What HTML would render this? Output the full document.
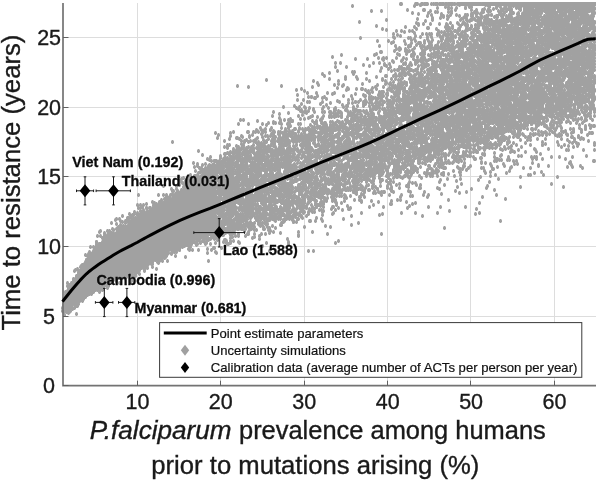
<!DOCTYPE html>
<html lang="en"><head><meta charset="utf-8"><title>Time to resistance vs P.falciparum prevalence</title>
<style>html,body{margin:0;padding:0;background:#fff}svg{display:block}text{font-family:'Liberation Sans', sans-serif}</style></head><body>
<svg width="598" height="481" viewBox="0 0 598 481">
<defs><marker id="d" markerUnits="userSpaceOnUse" markerWidth="6" markerHeight="6" refX="3" refY="3" viewBox="0 0 6 6"><path d="M2.45 1L3.55 1 4.5 2.2 4.5 3.8 3.55 5 2.45 5 1.5 3.8 1.5 2.2z" fill="#a1a1a1"/></marker></defs>
<rect width="598" height="481" fill="#fff"/>
<path d="M137.5,3 V385.7 M220.5,3 V385.7 M304.5,3 V385.7 M387.5,3 V385.7 M470.5,3 V385.7 M554.5,3 V385.7 M63,316.5 H596 M63,246.5 H596 M63,176.5 H596 M63,107.5 H596 M63,37.5 H596" stroke="#dddddd" stroke-width="1" fill="none"/>
<polygon fill="#a1a1a1" points="62,302 64,298.8 66,294.4 68,289.9 70,285.9 72,282.3 74,279.1 76,276 78,273.1 80,270.2 82,267.3 84,264.1 86,260.8 88,257.4 90,254.6 92,252.1 94,249.9 96,247.8 98,245.7 100,243.8 102,241.9 104,240.1 106,238.3 108,236.8 110,235.3 112,234 114,232.7 116,231.3 118,230.1 120,229 122,228 124,227 126,226 128,225 130,223.9 132,222.7 134,221.3 136,220 138,218.7 140,217.3 142,216 144,214.7 146,213.3 148,212.1 150,211 152,209.9 154,208.7 156,207.3 158,206.1 160,205 162,204 164,202.9 166,201.7 168,200.3 170,199.1 172,197.9 174,196.6 176,194.9 178,193 180,191 182,189 184,187.1 186,185.3 188,183.8 190,182.2 192,180.8 194,179.2 196,177.8 198,176.2 200,174.8 202,173.3 204,172.1 206,170.9 208,169.7 210,168.3 212,167.1 214,166.1 216,165.4 216,234.3 214,234.8 212,235.2 210,235.8 208,236.3 206,237 204,237.7 202,238.3 200,239 198,239.7 196,240.2 194,240.8 192,241.3 190,242.1 188,243 186,244 184,245 182,246 180,247 178,247.9 176,248.7 174,249.3 172,250.1 170,251 168,252.1 166,253.3 164,254.7 162,255.9 160,257 158,258 156,259 154,260 152,261 150,262 148,263 146,264 144,265 142,266 140,267 138,268 136,269 134,270 132,271 130,272 128,273 126,274 124,275 122,276 120,276.9 118,277.7 116,278.3 114,279.1 112,280 110,281.1 108,282.3 106,283.7 104,284.9 102,285.9 100,286.7 98,287.3 96,288.1 94,289.1 92,290.3 90,291.8 88,293.3 86,295 84,296.7 82,298.3 80,300.1 78,302 76,303.9 74,305.7 72,307.2 70,308.7 68,309.9 66,311 64,311.9 62,312.6"/>
<polyline transform="translate(0.5,0)" fill="none" stroke="none" marker-start="url(#d)" marker-mid="url(#d)" marker-end="url(#d)" points="293,138 437,176 259,189 218,162 466,40 560,23 489,69 561,4 348,190 458,29 495,129 240,223 247,225 459,70 436,4 523,96 473,34 561,12 146,208 551,37 591,6 521,4 440,114 446,134 355,133 205,237 142,215 300,200 481,127 472,136 340,190 561,23 283,209 510,4 573,45 284,172 563,74 417,62 188,243 574,99 444,228 419,161 457,72 278,139 250,218 593,56 510,15 507,30 297,140 255,205 405,44 263,198 574,49 593,4 490,36 491,52 437,55 483,130 505,4 581,4 116,278 508,139 301,173 446,121 362,142 462,49 426,77 356,128 532,88 289,165 578,43 465,90 293,140 491,47 171,250 242,200 553,74 584,54 497,52 359,111 570,85 564,68 569,4 572,112 537,115 503,52 584,45 474,83 343,148 320,104 505,4 425,121 486,63 223,200 549,82 451,85 509,75 349,140 297,190 530,175 488,35 275,163 539,95 418,97 444,138 256,172 335,124 448,62 78,299 532,26 592,86 481,57 430,146 272,165 374,130 581,4 592,4 587,30 309,185 513,123 479,126 573,4 406,105 475,122 253,145 484,155 428,138 508,88 582,79 513,121 580,29 350,112 381,122 473,157 401,111 318,166 575,37 450,120 417,4 576,4 551,109 436,107 344,172 510,5 538,47 404,163 554,97 559,134 337,179 578,144 450,89 586,4 241,191 425,49 533,66 497,43 409,155 461,100 564,9 501,99 463,43 472,69 408,145 218,234 499,94 546,100 375,136 544,4 386,134 560,82 391,113 327,180 511,81 265,166 369,124 306,188 586,60 176,247 364,139 552,13 235,200 392,88 250,226 307,193 339,146 594,4 498,123 581,4 486,43 308,167 570,72 334,195 547,46 542,71 582,21 577,89 515,94 514,164 418,117 470,83 433,104 525,73 397,109 332,191 326,99 493,99 435,164 537,8 467,126 372,164 297,149 249,230 239,210 591,4 549,134 312,121 523,16 417,72 565,101 542,45 483,56 531,112 96,289 477,83 333,125 514,95 556,38 245,236 527,23 479,122 576,89 351,119 436,53 386,150 482,154 576,4 399,93 411,89 432,112 244,205 552,23 553,26 517,84 555,40 266,171 253,168 246,223 232,209 407,115 594,161 435,74 111,223 312,192 472,78 505,31 275,207 264,143 533,40 548,79 529,4 590,4 592,6 557,5 456,57 558,4 566,99 549,40 294,150 302,183 548,98 510,82 388,113 587,101 593,97 530,4 528,30 378,98 570,129 489,4 250,204 348,209 553,4 306,216 405,114 369,81 471,27 338,192 506,99 500,103 397,200 305,177 338,116 584,11 569,4 295,217 401,157 239,179 523,24 530,109 329,116 487,21 373,147 382,122 373,126 80,300 371,164 589,29 347,148 569,4 265,204 513,79 472,78 551,4 315,187 510,46 191,244 363,179 523,50 501,48 489,117 432,139 530,48 452,97 476,67 283,158 420,119 320,188 243,204 504,62 230,226 528,13 292,131 458,122 260,145 236,164 282,184 374,191 197,176 524,4 464,59 220,189 269,220 547,107 522,81 518,132 304,137 426,124 331,168 509,79 494,65 314,189 358,129 422,118 361,169 381,92 534,100 491,73 467,63 462,156 226,189 594,4 285,143 425,143 564,4 536,106 301,217 528,56 366,172 463,111 568,4 530,7 427,81 360,111 282,199 348,103 235,179 527,80 270,130 481,132 588,89 500,71 527,105 554,4 451,58 250,222 238,225 282,183 529,66 543,175 472,16 529,71 477,77 461,76 546,107 243,221 584,4 540,52 420,188 466,80 294,169 93,251 426,120 558,4 467,71 397,92 578,53 323,138 227,224 175,246 484,154 255,195 423,139 498,128 168,203 367,140 545,4 235,173 65,294 341,115 303,173 420,114 546,112 444,122 261,164 534,111 331,158 570,63 273,192 468,147 592,4 579,51 572,4 532,4 435,87 399,129 450,15 437,112 265,198 447,31 560,18 546,4 532,109 336,164 514,27 193,183 323,203 576,51 530,63 527,86 558,104 546,69 378,167 317,180 228,195 591,95 560,71 574,4 512,70 585,47 580,4 334,193 477,96 253,181 385,125 542,4 230,191 401,100 471,7 229,216 413,169 223,190 465,99 402,155 359,135 408,130 405,101 146,264 66,293 373,133 340,126 511,33 394,51 515,37 408,95 511,71 464,4 139,266 485,54 539,135 567,4 427,129 572,4 532,64 297,95 494,72 577,4 510,71 363,122 550,59 582,4 518,37 574,43 278,139 350,150 391,142 336,175 230,159 420,105 484,75 336,185 337,146 250,150 507,39 544,38 380,119 577,146 469,4 534,82 401,107 470,145 468,66 315,182 453,74 522,24 218,186 542,42 547,4 556,4 549,67 78,272 379,169 519,4 482,4 528,63 231,172 528,23 546,60 352,99 402,168 418,82 563,39 561,64 251,168 321,193 586,52 279,137 536,46 391,159 475,13 297,202 313,174 306,167 560,15 437,111 289,215 583,96 83,265 342,138 240,185 248,87 398,87 392,111 502,59 266,243 217,219 538,72 215,225 587,4 195,181 544,110 229,230 244,231 256,220 341,55 204,239 534,67 467,36 516,80 573,59 301,216 282,152 338,145 440,56 377,189 486,80 574,62 158,263 495,88 533,101 243,215 574,107 243,169 543,20 273,158 407,128 538,11 593,26 407,67 219,199 310,221 411,55 313,164 496,147 375,161 361,202 510,56 245,165 540,85 508,40 312,208 331,179 505,24 579,86 528,23 313,143 401,118 455,58 457,70 526,54 530,168 487,33 514,120 477,114 293,221 518,47 530,42 79,271 513,21 205,168 469,128 569,73 269,202 519,133 591,4 515,4 545,43 436,122 214,188 182,183 548,77 478,62 444,71 582,4 87,295 427,115 415,203 448,87 395,142 548,108 477,124 478,88 471,56 574,4 240,120 466,125 259,161 224,201 220,216 552,77 538,83 397,135 533,67 378,137 579,4 347,167 228,210 426,118 473,79 480,36 559,74 278,210 436,148 553,75 278,153 573,27 440,4 484,136 495,4 457,4 505,79 211,250 446,58 235,202 451,147 445,76 488,84 515,41 422,163 579,70 451,8 559,11 352,135 592,90 239,225 438,133 435,126 546,78 394,137 538,4 548,64 573,22 204,237 468,71 455,100 483,74 430,93 405,51 128,222 435,70 298,132 307,182 424,142 440,58 372,172 461,117 249,152 459,16 511,97 394,163 517,125 263,170 475,4 263,197 570,114 564,99 450,152 484,30 450,145 519,109 292,121 239,210 409,79 546,80 287,158 584,27 465,82 251,211 257,156 339,186 497,100 561,18 314,123 514,110 505,85 360,121 139,268 527,16 556,32 176,197 338,137 398,84 260,183 420,43 276,194 541,49 332,195 419,100 269,233 543,4 480,119 452,115 483,4 385,126 573,20 589,4 427,132 500,125 515,122 511,5 583,4 277,163 573,29 409,65 561,27 285,140 573,71 409,101 329,183 372,122 224,147 310,139 211,169 567,4 435,46 583,98 501,117 587,16 218,185 348,138 348,160 580,106 265,169 443,44 532,104 237,225 570,69 365,139 247,166 442,88 350,143 71,283 158,259 549,17 533,53 525,4 247,211 530,100 454,102 435,12 154,208 443,16 514,35 381,146 468,4 337,167 167,252 508,68 307,165 457,135 581,89 120,225 568,11 111,278 230,218 466,140 449,84 514,4 540,4 238,219 331,160 460,115 323,203 262,155 572,91 563,21 442,78 415,87 455,68 578,15 240,160 447,31 490,25 544,4 547,80 513,6 505,78 288,201 586,4 430,82 134,220 489,59 250,214 172,249 442,126 83,299 503,85 286,173 429,156 490,130 548,149 437,101 580,166 427,103 472,48 412,156 322,212 504,140 445,60 433,125 406,104 584,4 566,108 227,178 356,138 466,151 256,198 570,98 429,47 584,4 323,168 369,155 544,72 459,114 507,30 413,151 353,158 375,87 271,209 574,109 498,26 537,41 507,113 456,8 584,14 228,196 386,126 367,125 539,107 561,65 220,181 526,13 218,232 473,149 253,141 330,145 233,227 564,4 537,65 549,103 178,195 450,137 217,210 578,107 587,89 252,165 453,41 451,145 457,106 544,24 367,136 389,129 429,123 532,75 586,32 584,4 504,147 338,133 586,64 521,46 567,4 516,48 322,128 459,48 564,23 576,74 415,129 301,203 454,143 504,121 484,67 499,57 339,171 538,17 453,105 321,149 300,179 381,68 579,4 308,111 235,209 278,134 459,120 519,4 306,147 449,120 470,72 409,147 216,187 105,237 488,104 438,88 194,167 590,74 588,62 337,166 560,4 393,113 541,4 527,16 492,23 453,103 509,15 509,31 366,125 502,134 517,4 526,5 577,39 284,181 452,142 459,108 591,25 565,75 561,4 249,161 252,174 424,72 412,149 90,290 346,106 439,104 589,77 386,94 479,112 263,165 451,120 439,97 403,70 508,53 384,109 511,88 226,191 333,125 295,191 582,44 263,200 336,169 519,110 406,98 534,87 594,45 468,50 299,205 451,143 280,197 488,55 276,195 569,46 459,119 354,170 413,78 427,39 570,73 513,4 548,4 281,163 467,106 480,103 336,171 434,100 64,309 345,120 495,28 225,162 324,190 319,127 303,197 498,109 558,4 524,6 429,43 113,234 536,66 220,234 349,188 443,126 490,99 564,4 343,219 530,109 361,181 523,22 503,25 221,190 475,109 492,59 583,4 499,32 511,111 400,124 239,139 578,55 178,192 514,81 563,74 504,132 241,202 337,129 487,76 239,208 366,143 233,156 404,113 451,91 428,126 504,13 566,19 236,157 353,125 561,122 237,174 430,93 517,110 315,132 513,99 434,48 199,168 235,171 426,121 539,79 249,206 484,60 230,188 422,134 594,4 308,141 396,135 560,45 392,142 390,147 354,184 558,82 557,72 441,154 445,118 392,161 571,43 578,4 307,102 560,66 224,190 505,6 429,145 363,122 562,84 291,184 545,139 592,14 545,36 478,23 558,4 518,79 453,37 461,85 340,139 396,135 251,170 577,103 452,163 524,106 322,166 237,178 593,49 446,119 569,78 362,143 563,86 525,39 524,86 554,13 406,99 219,182 96,247 445,147 492,51 463,122 573,95 459,55 431,148 413,71 171,189 510,52 543,4 576,4 383,155 573,36 431,4 502,91 466,123 503,27 428,78 132,276 556,4 500,12 577,65 293,172 159,261 285,207 577,54 140,264 128,220 315,169 540,6 528,67 428,148 218,204 568,49 461,140 417,131 478,81 568,4 585,126 322,174 539,123 432,86 531,9 442,150 439,98 324,199 583,42 516,71 541,4 466,137 332,191 518,15 415,119 289,214 522,97 409,99 529,4 341,155 444,61 284,204 363,65 315,177 407,171 536,67 559,4 504,121 256,179 406,92 298,232 207,237 569,73 426,109 586,4 324,189 501,79 562,21 230,164 243,152 546,86 467,26 454,121 567,140 310,198 244,211 569,85 217,188 407,165 409,103 321,201 549,29 519,126 400,36 242,199 440,110 290,197 332,131 588,99 322,162 393,111 223,210 534,24 243,147 532,43 217,162 518,61 513,116 120,276 125,227 308,214 476,130 248,216 431,158 509,8 363,164 569,16 459,135 348,161 465,90 590,118 458,64 583,102 468,66 455,143 369,118 448,144 389,154 335,186 533,103 564,58 223,180 442,37 478,4 551,4 501,4 355,116 417,113 522,89 263,190 253,183 230,213 560,22 407,208 335,201 435,135 278,190 273,132 533,66 526,20 513,76 304,136 515,50 531,94 498,116 555,16 568,109 456,55 561,100 574,50 230,169 515,48 527,47 221,169 513,4 382,151 512,4 520,92 325,169 560,4 444,80 487,34 206,172 257,182 586,57 257,121 257,182 338,189 481,42 282,138 237,149 126,228 345,124 482,4 387,143 416,147 543,99 232,214 487,52 484,78 441,139 483,28 460,116 380,171 484,17 476,88 398,119 460,138 552,4 519,73 462,98 508,139 288,134 453,75 485,97 568,4 309,209 458,4 575,4 324,170 527,96 266,201 560,86 577,4 236,217 462,51 259,213 524,64 365,119 568,33 488,30 518,33 476,102 345,166 106,286 555,21 240,194 338,177 446,103 481,162 266,161 588,61 535,29 491,24 473,134 550,130 371,172 304,133 547,18 451,47 393,163 400,80 576,97 376,99 201,237 573,8 386,145 591,17 476,152 471,81 441,108 516,78 551,105 397,170 361,150 541,116 561,20 538,61 397,174 488,9 222,206 346,135 533,79 563,14 242,185 518,101 263,168 564,78 302,143 500,56 462,57 227,203 484,111 514,4 243,175 66,310 97,236 456,83 458,71 225,171 416,23 485,128 430,129 582,36 591,97 166,254 533,62 217,227 540,16 546,135 475,90 506,4 457,128 524,11 575,66 538,60 533,49 552,54 260,145 538,24 224,177 388,139 371,134 553,83 433,147 310,168 584,85 455,90 508,148 583,4 254,214 563,41 511,40 210,234 591,25 447,123 376,126 492,134 394,94 190,175 342,105 109,235 459,90 188,243 578,58 541,77 413,114 144,264 300,177 434,93 404,126 264,209 510,8 296,145 591,36 328,170 254,227 476,122 542,123 433,70 552,57 249,137 249,151 268,230 414,158 541,97 255,171 373,205 414,154 471,45 246,140 511,30 585,5 530,61 271,191 308,212 419,133 573,4 341,193 494,93 530,4 269,166 562,97 276,158 235,229 578,22 296,173 415,154 251,195 380,148 241,176 476,80 522,88 381,96 151,264 544,4 426,64 323,144 440,48 535,75 579,4 246,179 508,4 215,221 559,4 537,28 345,190 164,203 581,4 80,300 205,235 529,16 561,81 369,140 267,180 515,112 463,4 592,68 570,90 461,73 361,89 239,203 440,62 431,83 292,168 536,4 137,268 415,95 554,74 421,117 242,226 457,100 107,288 465,106 406,119 257,138 591,92 481,35 369,66 400,146 330,227 332,200 247,193 532,4 551,12 115,277 551,34 484,132 591,4 353,136 251,163 579,99 509,17 252,159 540,112 454,151 412,121 406,69 461,42 581,40 584,7 274,177 371,111 593,4 347,106 563,47 415,70 522,36 582,123 536,40 553,80 449,77 418,123 239,160 396,120 419,109 238,229 565,95 505,88 435,143 207,159 566,4 564,20 347,176 511,12 457,55 498,72 447,43 562,30 562,20 413,116 593,4 345,179 550,15 98,286 415,183 554,47 386,83 479,132 281,163 443,84 398,172 376,100 564,5 498,58 442,123 542,108 471,10 223,191 482,4 316,169 438,76 300,175 503,30 475,80 424,106 538,44 577,111 342,147 479,64 536,87 360,178 570,99 287,216 450,137 517,80 355,172 551,59 368,174 549,45 576,4 290,165 587,45 135,267 574,55 413,160 221,211 320,135 563,106 561,12 219,224 576,4 538,61 482,74 275,200 270,175 531,103 410,161 509,102 568,4 478,180 585,35 459,172 378,202 360,154 486,126 490,89 527,54 571,50 418,140 558,40 571,117 528,43 568,53 204,239 409,151 571,87 572,48 560,43 366,154 493,95 300,151 403,113 137,270 452,117 549,40 77,302 537,101 547,30 477,52 511,92 236,208 562,114 561,54 428,124 398,111 566,85 531,157 594,116 575,4 594,143 423,100 322,161 243,152 558,4 492,59 591,61 475,126 512,84 530,145 558,59 534,157 331,138 565,4 562,25 582,4 405,119 488,133 308,188 542,92 442,73 341,169 563,187 316,207 250,166 524,11 436,29 403,107 416,29 594,23 482,46 84,297 387,128 250,225 535,112 516,103 589,86 515,69 445,73 238,216 448,65 310,168 349,123 593,63 438,125 229,206 440,107 255,201 373,187 583,15 518,19 435,73 545,55 362,121 564,4 483,46 437,154 436,100 560,14 545,36 541,71 387,142 500,24 526,89 572,4 337,148 289,141 301,211 482,12 212,237 120,276 454,109 593,86 330,126 336,165 238,159 498,4 330,166 83,267 214,204 587,116 528,84 594,29 439,167 518,44 573,85 405,75 375,141 216,161 234,180 497,30 461,33 587,86 523,4 582,66 302,165 456,79 158,260 78,302 511,74 309,135 108,238 498,134 473,85 283,191 485,90 479,106 488,92 425,114 580,48 444,115 590,79 553,4 248,132 588,53 292,140 372,146 390,141 524,4 285,191 258,224 420,99 445,60 579,32 183,187 412,147 451,78 437,61 241,227 217,163 594,112 408,177 575,47 568,4 445,55 594,77 583,35 189,250 353,180 388,154 426,173 499,85 591,64 536,125 529,137 434,120 501,9 435,86 559,4 564,95 431,93 423,108 437,45 554,60 526,37 502,42 583,27 305,181 560,97 555,14 517,164 584,121 81,266 438,155 405,108 551,4 300,136 408,191 548,80 171,253 361,163 351,172 594,9 198,179 555,21 382,154 584,4 520,17 588,9 525,113 587,30 541,53 423,68 566,61 259,158 562,4 296,179 464,104 551,126 287,156 534,14 527,57 566,30 397,167 525,4 269,220 103,240 282,180 246,209 165,256 229,182 160,260 504,103 354,115 579,93 580,15 478,51 385,146 330,193 486,24 160,206 464,142 491,94 569,101 390,144 437,109 232,164 534,35 557,81 344,142 335,67 463,23 357,125 342,168 271,207 514,95 498,126 569,11 286,203 583,4 226,241 485,173 215,161 512,117 496,103 434,82 368,157 565,14 561,30 262,190 387,115 555,84 559,71 421,100 351,115 381,122 355,177 506,86 591,20 480,88 244,204 237,162 131,273 279,147 283,220 402,88 566,111 360,197 555,8 357,163 480,38 364,169 546,4 474,137 526,55 551,113 547,13 511,51 395,116 242,154 263,157 541,11 419,150 545,93 269,163 564,101 393,171 470,38 517,27 274,170 443,97 436,105 448,139 428,60 576,24 395,119 566,83 537,4 498,22 510,34 165,257 228,193 140,211 399,141 477,142 376,120 257,215 409,178 485,4 324,152 557,60 258,164 557,4 440,116 446,103 480,94 523,21 516,83 315,184 497,137 586,96 465,87 429,69 348,181 260,156 440,92 209,234 555,4 530,67 169,200 249,179 310,180 471,54 479,203 322,153 459,68 278,177 531,31 67,283 324,123 520,140 469,64 522,113 410,87 567,57 451,109 287,175 588,94 254,223 551,38 188,245 425,142 492,60 337,137 462,24 277,170 245,179 143,216 555,45 365,188 326,191 482,96 435,100 510,94 432,18 513,20 202,165 237,221 382,168 382,134 535,108 379,111 329,166 519,5 491,107 504,111 396,156 429,93 381,234 262,185 522,51 288,168 271,188 430,72 518,43 209,171 588,4 150,213 263,152 457,141 485,115 513,31 489,93 386,159 579,4 307,175 510,10 394,126 206,171 259,189 591,4 492,101 515,86 407,92 503,64 398,163 509,37 386,30 553,43 474,110 268,194 348,100 278,155 530,137 486,118 267,189 364,174 540,154 554,77 365,135 518,127 465,83 290,217 586,79 396,140 217,223 503,76 523,4 242,219 574,46 322,221 480,100 580,84 504,123 180,193 279,174 515,52 183,246 495,115 381,157 577,51 521,73 474,129 585,5 112,281 444,110 403,137 536,102 404,106 594,29 116,229 357,168 560,24 560,87 504,41 535,150 513,76 399,169 559,4 105,238 570,4 571,25 511,84 498,97 269,219 441,125 311,197 216,169 538,93 522,19 429,73 316,164 353,151 529,19 519,4 473,37 320,206 305,141 442,99 381,154 400,4 512,43 594,70 279,165 79,300 594,4 370,160 517,7 534,72 411,144 115,234 244,174 368,145 522,113 266,218 570,93 461,184 495,101 241,183 258,142 346,90 287,184 452,26 303,144 492,113 117,228 515,80 241,208 335,182 79,274 579,96 553,12 176,194 548,109 295,170 267,147 260,181 337,167 584,4 448,94 592,4 372,159 250,196 226,176 541,107 547,67 574,141 529,4 451,53 522,29 207,239 280,138 319,184 484,59 534,57 499,122 431,112 517,82 220,215 483,64 234,192 568,150 420,61 511,150 332,214 455,36 360,145 345,154 284,167 492,88 272,160 349,167 498,42 271,156 551,4 581,104 272,155 586,84 455,131 582,38 253,175 283,179 247,160 509,142 521,33 582,66 581,68 567,23 577,23 292,177 260,152 272,143 495,26 385,76 525,86 402,143 186,188 564,66 249,183 466,28 537,72 279,175 486,44 380,149 501,133 465,75 338,111 460,107 522,4 239,223 521,4 570,4 219,215 546,121 474,42 241,148 365,103 497,16 496,72 125,277 247,194 459,141 505,199 231,194 497,116 486,92 495,61 388,69 230,227 526,66 594,110 567,69 527,58 301,169 581,31 486,62 521,4 510,48 523,38 227,231 557,37 471,110 473,92 433,150 574,13 255,194 493,169 426,113 326,165 241,136 540,34 117,276 565,4 577,14 259,148 248,184 374,153 461,120 210,234 232,177 480,70 180,245 343,150 266,191 320,129 497,21 560,93 179,181 85,293 526,56 535,82 309,158 445,162 504,4 398,152 593,64 384,167 584,113 432,40 415,121 565,20 548,4 572,35 473,85 436,106 434,62 442,60 481,16 531,23 272,155 569,9 433,66 451,120 454,176 339,134 468,110 564,145 484,39 417,105 233,229 461,89 519,126 242,188 118,275 294,129 482,58 563,75 555,4 433,49 259,162 479,75 434,97 498,75 231,224 331,173 283,136 384,127 552,126 571,110 528,81 346,128 242,229 565,17 547,66 487,41 424,136 298,160 307,181 498,53 419,149 254,200 247,191 525,80 250,151 378,137 582,78 450,132 249,213 128,271 534,4 468,4 559,136 493,94 311,97 494,4 508,33 415,41 292,189 422,58 570,99 459,28 314,143 531,129 493,103 518,4 453,128 214,165 299,172 567,94 409,153 233,221 534,51 333,164 555,97 195,177 307,204 374,178 267,214 586,83 372,150 445,159 456,98 248,224 445,135 428,156 499,128 245,166 135,222 573,50 374,142 326,163 298,131 497,70 327,158 271,175 78,276 332,137 591,97 438,47 287,166 515,101 491,57 450,83 561,4 444,88 477,129 487,4 309,146 562,40 542,64 568,62 550,108 413,166 243,173 519,33 594,90 275,210 376,153 500,131 586,9 534,115 421,92 511,57 463,131 436,150 487,11 526,56 585,4 524,30 100,236 269,150 479,97 251,194 499,47 307,159 538,4 414,147 474,119 217,207 519,4 247,200 447,16 527,28 527,19 584,100 526,88 337,183 385,150 402,129 95,286 480,126 284,180 513,69 397,70 220,164 510,40 275,228 541,172 290,186 533,4 508,32 274,213 212,165 488,46 503,102 243,164 586,51 457,94 131,280 500,4 582,89 265,197 288,207 549,4 587,8 292,200 236,155 224,185 525,4 564,4 346,169 330,161 426,128 327,169 493,38 466,133 354,117 436,129 96,244 163,203 371,123 492,82 583,4 412,134 384,64 578,105 250,177 118,233 582,8 539,4 482,41 265,160 478,88 549,106 282,167 546,133 494,84 216,253 576,26 428,120 487,56 302,183 340,143 579,91 349,148 540,4 526,19 547,106 490,119 346,135 361,129 584,101 533,122 500,83 229,209 326,141 295,134 471,128 280,193 590,54 223,163 456,104 230,199 550,22 79,274 574,75 417,136 407,123 571,97 488,94 388,131 247,168 423,51 298,202 274,154 556,91 545,11 513,124 492,89 276,210 394,97 483,88 569,142 509,109 540,94 270,146 433,142 344,158 520,110 575,4 490,135 493,89 547,52 382,151 490,42 417,85 466,148 272,150 589,4 560,72 239,175 157,259 249,223 572,37 363,163 310,178 549,99 546,46 265,149 223,159 299,187 550,90 449,63 545,93 215,252 559,77 284,172 562,50 177,195 297,219 227,186 291,190 419,90 522,29 303,198 427,158 424,192 496,22 561,85 357,125 564,106 586,4 289,159 587,4 434,68 442,140 217,201 286,203 567,4 580,61 123,229 483,56 516,87 438,159 271,144 229,233 462,65 545,66 509,19 579,4 392,174 299,194 558,4 587,16 244,142 333,116 559,33 93,247 430,97 301,110 221,209 545,51 431,143 328,180 452,123 517,4 556,61 433,173 210,157 496,84 263,147 448,28 561,100 512,19 587,90 544,60 87,292 541,11 444,63 585,98 527,25 357,162 383,58 547,65 438,56 529,43 570,13 515,44 218,172 446,109 564,4 240,221 397,160 430,152 571,4 275,196 410,111 490,48 478,49 241,229 553,95 346,144 422,119 399,50 552,4 439,144 505,20 351,116 152,210 406,54 584,66 593,60 589,50 486,98 308,135 588,66 290,179 467,56 324,143 458,113 564,93 370,111 397,54 552,8 582,34 582,83 383,92 244,225 532,4 504,62 539,64 439,101 478,147 114,278 487,38 590,72 241,178 520,4 185,187 363,144 446,144 287,210 141,265 303,162 317,188 219,198 575,98 463,124 400,105 561,4 334,165 500,70 200,238 541,112 520,92 287,205 279,151 547,4 209,239 437,75 469,129 360,150 421,139 224,195 535,95 309,167 403,99 578,137 572,33 569,27 555,107 217,213 383,124 299,152 512,42 445,141 578,4 578,84 419,133 509,46 393,34 506,117 546,113 167,253 579,49 448,103 520,35 90,254 300,208 265,187 465,46 371,123 580,102 575,55 350,123 477,39 433,4 448,96 522,16 505,118 562,42 537,4 347,206 455,10 345,184 167,261 501,68 461,49 589,4 494,112 552,4 536,46 552,102 358,162 426,159 539,107 282,140 219,165 434,139 572,137 399,113 305,145 535,4 451,101 476,100 532,51 354,200 275,152 569,4 489,6 354,144 463,143 469,48 374,153 260,220 393,113 350,128 408,38 85,295 440,207 357,123 360,114 223,171 508,82 104,235 258,173 246,164 329,145 523,102 356,89 591,45 457,127 348,143 584,31 245,209 146,216 507,93 227,158 556,110 457,63 531,4 464,126 471,100 565,12 445,148 441,77 569,106 546,61 406,202 588,83 536,114 511,92 550,4 258,164 526,89 420,96 550,84 484,4 501,53 493,129 232,186 108,286 232,159 423,142 417,121 544,92 326,128 562,110 237,224 449,131 424,119 568,47 316,159 431,74 579,100 496,16 526,116 316,196 582,4 541,104 369,124 526,4 461,115 577,26 577,4 554,94 541,20 522,105 282,145 423,159 532,33 138,208 441,84 385,137 432,126 179,250 349,166 350,176 480,94 513,100 573,4 387,134 587,37 368,169 554,94 445,139 118,227 574,4 393,92 525,105 551,110 222,215 132,271 552,112 264,143 589,35 581,82 288,143 263,179 519,66 420,74 396,122 445,143 349,124 273,178 518,130 224,205 525,81 494,28 500,100 575,4 416,124 407,108 479,32 513,67 516,52 336,195 309,140 218,237 543,60 331,197 474,31 479,91 490,53 427,47 127,218 545,4 510,131 230,212 396,152 577,45 475,28 112,281 448,98 541,124 516,51 564,105 260,210 490,50 594,4 496,113 112,236 360,142 272,195 555,101 365,135 471,50 539,4 475,35 594,22 259,167 286,192 594,79 262,145 488,118 530,4 392,144 381,192 138,221 544,58 221,214 557,19 581,63 293,222 412,85 574,78 82,297 284,220 228,173 431,97 288,113 270,167 329,79 293,165 381,168 526,72 338,122 493,26 355,102 544,99 585,106 493,22 442,52 550,67 531,4 593,35 576,4 425,129 171,200 278,172 226,164 542,8 555,4 381,170 443,108 474,74 395,175 445,116 455,78 389,121 542,34 583,4 455,132 544,4 292,219 481,57 384,123 540,111 476,42 470,117 318,144 85,255 223,199 305,158 439,118 436,173 463,82 551,36 276,149 259,164 118,276 425,161 335,123 504,4 433,116 421,71 230,227 349,209 422,139 500,46 519,49 442,69 336,203 576,114 589,71 274,176 563,9 524,31 409,147 441,79 222,174 366,164 561,24 522,111 517,60 578,4 485,44 589,79 582,107 563,21 507,83 460,85 467,40 258,183 590,4 503,113 574,63 399,76 448,75 494,190 301,134 272,176 515,115 79,273 424,93 399,176 293,212 512,133 391,103 416,102 376,89 427,103 474,122 495,90 516,4 473,41 551,74 249,182 467,4 471,106 516,76 550,23 358,168 551,65 577,67 493,39 494,94 527,90 516,4 506,73 521,86 504,70 444,156 533,109 491,24 532,62 336,186 227,179 483,80 514,102 492,129 240,195 573,32 254,234 526,26 420,129 461,42 125,273 556,128 403,146 244,159 523,70 504,57 550,40 272,139 513,4 560,4 570,72 472,139 339,167 490,41 471,78 345,149 526,97 456,117 510,78 237,157 217,179 137,215 511,146 511,115 560,99 553,4 463,153 593,94 521,111 407,134 484,44 522,37 288,152 472,83 325,192 543,4 593,50 582,76 528,25 365,143 270,171 288,216 241,229 236,150 239,243 579,90 555,22 313,135 542,42 362,162 452,139 422,67 522,117 493,35 565,4 554,43 511,107 252,224 581,138 363,133 501,79 470,82 297,172 544,59 268,148 339,140 547,111 448,12 478,4 300,166 240,190 377,41 369,98 455,37 582,20 569,4 309,144 133,219 495,120 581,4 243,149 453,99 237,214 387,95 593,4 553,4 352,6 518,47 455,121 583,50 576,4 389,101 466,18 559,22 278,194 487,109 446,143 482,85 547,61 593,93 555,101 512,24 320,120 396,161 503,118 242,192 497,82 540,4 418,152 67,291 110,282 561,135 545,22 558,4 470,148 464,126 235,218 519,113 522,87 575,4 494,122 521,118 401,4 558,56 238,188 138,219 400,200 325,134 391,149 281,181 224,217 94,251 558,4 270,212 363,111 407,73 554,4 216,235 482,76 497,123 488,43 490,69 487,63 407,170 295,134 523,79 190,185 284,157 564,14 537,92 252,198 483,130 303,207 501,33 507,18 497,48 288,171 586,4 335,153 516,145 272,151 332,176 584,4 511,128 405,127 400,119 458,142 571,4 486,29 417,143 506,97 331,157 576,4 590,109 290,160 534,149 575,47 592,72 285,164 468,112 437,153 526,50 450,98 539,98 385,118 583,81 460,35 244,190 502,4 454,111 576,4 320,198 206,239 205,244 501,110 435,104 94,287 380,101 592,26 415,82 458,79 358,149 529,56 451,36 266,200 506,4 168,198 225,203 269,179 322,185 491,78 353,140 393,139 588,4 328,174 441,174 492,52 494,22 327,93 488,122 394,100 452,46 205,237 496,59 320,176 581,30 267,165 233,185 238,200 519,4 495,57 407,109 534,33 432,109 589,96 576,4 331,183 286,151 541,55 354,176 265,163 452,114 332,131 558,106 264,223 234,185 307,162 483,114 557,4 415,113 445,157 376,26 378,58 261,194 580,4 403,94 318,184 307,173 583,4 251,229 436,142 459,117 493,62 519,101 300,212 580,73 544,62 501,44 335,210 581,43 347,117 502,99 585,7 441,116 296,142 477,79 433,142 189,245 103,285 410,82 572,54 534,18 475,4 558,116 311,193 220,158 586,13 497,167 215,191 146,208 572,17 502,129 589,65 272,191 436,88 438,163 286,171 410,128 466,53 458,51 556,123 583,14 230,199 458,100 569,4 511,88 509,4 540,9 530,4 454,75 457,167 470,84 573,105 539,4 132,223 454,118 568,53 434,107 552,102 409,71 528,82 484,41 307,144 227,186 589,89 278,178 265,142 128,222 509,129 574,69 281,208 453,142 365,154 583,50 505,89 590,128 557,136 339,150 442,105 449,163 485,49 219,163 575,89 471,26 406,132 571,91 241,160 218,233 578,112 509,45 444,144 263,209 344,187 592,89 445,66 457,71 455,60 578,97 481,158 256,159 447,112 410,101 225,217 510,77 565,32 263,140 511,22 407,159 474,44 326,200 350,208 486,57 250,174 76,278 535,61 568,4 509,30 500,90 528,59 415,4 529,36 502,80 535,6 495,32 330,103 503,140 494,93 122,273 465,126 247,132 568,89 247,153 77,277 479,4 497,104 520,43 300,209 587,65 545,4 541,94 500,99 575,77 411,132 310,131 118,275 540,85 325,143 522,107 556,18 269,215 281,164 255,132 224,220 459,4 403,140 100,288 486,68 384,165 313,81 387,121 507,121 470,122 581,23 362,157 477,88 403,96 469,131 588,37 287,186 558,21 300,124 539,110 243,203 423,85 423,53 549,84 407,103 389,148 531,102 406,127 494,98 540,91 477,102 251,213 594,35 401,106 519,8 488,35 489,102 290,203 397,146 472,61 275,147 536,4 222,226 519,105 426,61 198,238 552,9 448,35 590,38 567,4 468,87 575,57 188,186 589,24 305,145 514,65 475,128 490,4 579,106 304,201 486,137 310,176 223,182 441,121 221,248 467,60 466,74 554,4 551,100 431,15 279,199 347,122 489,116 439,65 534,107 337,147 562,94 576,4 544,4 392,145 549,103 484,65 360,100 581,4 431,47 465,82 511,72 583,78 339,148 314,200 528,29 446,146 323,152 565,38 405,63 369,121 289,206 511,9 410,79 258,171 528,11 568,93 582,18 373,135 282,139 553,4 534,34 476,62 466,61 371,161 497,145 511,13 549,61 261,234 378,150 517,117 237,228 447,92 297,100 260,196 510,4 164,202 130,223 396,144 441,131 343,167 470,51 295,140 280,207 273,201 440,65 556,27 488,119 421,147 228,164 515,104 522,4 146,204 488,136 280,188 557,61 216,209 211,238 538,96 398,101 580,4 365,131 91,290 166,197 363,195 580,24 231,233 581,97 585,7 578,4 567,83 149,208 422,125 387,173 220,192 395,74 467,100 274,191 388,116 352,127 265,202 458,132 332,139 423,79 403,101 229,161 580,91 540,95 280,183 559,11 576,6 503,99 555,4 246,221 286,172 338,139 244,201 356,180 521,125 424,89 542,98 411,92 506,107 502,32 416,45 485,127 504,33 461,19 418,132 82,267 372,173 141,212 523,94 424,151 475,111 384,65 269,251 428,148 472,74 569,4 227,174 502,76 354,149 404,41 249,188 452,57 404,32 550,115 392,120 458,145 225,187 486,118 217,186 434,135 235,186 563,4 468,126 525,122 483,97 416,99 281,159 531,13 568,12 577,103 507,98 142,218 423,10 580,82 257,193 384,116 417,154 525,152 528,4 559,63 321,210 548,9 573,4 136,272 357,171 529,99 92,288 517,98 327,234 575,47 506,71 423,121 70,287 445,27 337,172 525,23 267,156 457,55 590,60 153,207 422,131 142,216 272,196 448,4 308,144 221,234 590,47 581,64 563,66 384,151 231,208 453,116 566,43 526,18 227,207 246,172 273,187 432,170 402,109 439,106 324,132 553,83 417,85 381,96 420,150 490,111 274,220 460,113 269,199 469,101 375,121 569,4 521,4 553,56 435,98 224,198 187,180 574,4 367,148 586,81 325,160 333,145 540,100 369,163 451,136 565,4 252,183 363,152 473,135 500,76 390,189 414,84 333,160 555,63 324,188 552,99 546,29 276,202 474,80 434,117 266,194 381,122 390,174 187,243 308,177 230,202 555,100 441,15 520,52 535,74 421,48 351,158 461,49 184,245 331,166 541,100 438,171 366,181 491,114 352,114 460,130 66,312 472,70 445,146 407,175 469,54 288,156 513,120 329,191 498,35 302,196 419,96 332,94 100,244 405,112 204,242 544,28 429,174 462,110 589,88 480,61 389,118 571,4 480,62 504,97 226,218 346,140 570,44 258,164 218,188 560,107 344,143 73,279 485,33 453,43 353,120 407,120 459,89 449,130 502,42 500,102 506,131 355,156 513,78 305,167 472,122 266,141 533,98 436,4 456,80 338,128 539,29 203,171 560,18 229,175 439,182 444,124 444,125 484,9 316,170 455,118 230,175 351,148 567,61 581,4 362,169 511,38 514,121 102,238 413,85 510,4 308,202 578,24 568,100 281,142 97,287 517,137 579,104 510,16 455,100 429,103 556,4 589,4 538,84 555,81 274,193 520,130 530,4 586,106 454,94 469,139 556,4 570,162 67,295 485,99 512,77 504,139 469,122 408,107 365,176 231,225 424,52 584,50 413,152 526,77 463,40 506,117 571,4 332,189 590,37 225,188 91,293 456,68 292,138 506,128 544,4 435,69 477,88 563,59 510,112 501,123 372,105 547,109 500,4 453,88 567,88 277,155 418,132 404,95 447,74 575,20 590,111 244,217 287,205 557,36 466,20 529,43 145,263 574,48 458,24 511,167 546,80 515,4 500,4 229,153 484,94 444,139 474,106 214,178 588,100 226,181 240,150 438,135 552,104 93,292 361,194 462,83 435,113 452,4 526,10 250,182 428,127 550,88 533,46 440,96 264,130 571,15 379,215 408,102 353,162 397,130 573,129 548,102 237,184 449,147 588,76 521,65 447,67 376,130 579,57 589,57 550,58 469,74 236,182 545,52 486,93 483,77 403,97 175,256 478,111 442,48 571,86 478,132 505,21 295,160 408,46 534,4 594,36 507,26 566,5 581,4 594,4 399,161 407,137 515,30 579,87 584,4 439,92 492,4 567,4 222,210 436,74 403,64 461,124 574,85 587,54 559,101 294,106 388,123 563,54 388,176 416,111 427,81 425,49 514,124 361,213 586,4 333,185 479,86 96,288 300,187 566,4 520,10 346,170 565,62 542,92 174,252 537,52 568,24 74,282 235,152 564,4 251,206 399,161 539,48 436,96 475,28 438,149 491,104 545,4 315,179 343,159 568,35 561,26 215,166 572,34 263,176 515,82 423,156 451,13 552,90 214,248 461,42 134,274 380,181 581,18 533,93 355,94 515,62 234,158 567,4 433,65 572,68 388,141 275,203 297,172 561,95 318,192 343,178 216,226 265,152 210,166 577,4 299,199 437,12 584,53 576,37 573,92 412,81 230,198 115,279 531,55 562,87 250,214 590,105 407,140 505,4 526,34 320,170 297,141 527,110 540,40 407,51 147,262 474,123 156,206 493,36 457,125 282,184 463,79 232,205 555,45 339,193 440,82 91,294 268,156 150,208 450,143 573,112 390,83 556,4 333,157 382,214 517,127 389,137 172,195 247,205 422,75 576,4 68,289 464,42 438,51 591,126 298,189 86,261 477,76 517,68 505,111 238,242 229,181 244,180 477,82 556,26 487,147 544,68 426,66 358,102 458,44 517,81 567,4 540,57 542,98 391,105 550,60 484,115 454,56 80,271 562,95 554,43 284,208 495,4 477,145 462,83 445,90 548,4 207,168 298,116 523,168 592,4 298,201 486,71 496,54 532,130 273,218 327,148 523,35 586,28 552,112 574,66 556,64 252,215 551,22 230,193 418,99 534,114 377,99 509,17 579,4 323,165 514,33 334,115 225,171 405,114 415,170 223,218 521,156 294,147 359,148 308,199 446,119 366,156 533,37 553,28 279,160 254,158 296,197 554,87 426,134 440,68 533,40 534,57 295,181 149,261 537,4 271,161 437,116 239,201 571,69 253,205 468,52 322,128 452,139 590,4 523,119 462,120 482,123 299,129 493,115 484,20 543,80 240,224 510,27 576,70 572,143 396,105 468,115 575,36 424,147 311,184 521,23 399,48 330,130 388,157 351,114 586,73 503,104 568,4 404,132 311,180 403,127 479,149 558,27 87,294 559,114 225,220 483,78 554,89 399,99 323,163 302,176 494,121 530,4 384,158 577,4 506,87 256,197 514,37 533,90 538,125 562,76 477,32 395,131 277,158 500,43 576,100 459,106 432,123 515,43 527,4 585,4 273,160 234,187 561,30 505,91 370,168 507,104 469,91 362,143 500,4 314,182 301,178 275,215 530,42 485,91 500,221 554,54 460,157 545,37 382,118 247,197 442,111 528,4 367,164 296,190 508,66 122,228 537,44 226,199 552,8 250,174 452,135 497,62 369,150 447,134 299,200 526,11 569,77 117,231 239,198 88,257 471,117 544,88 492,123 263,166 131,216 593,4 502,74 285,166 442,117 531,80 363,104 465,98 377,125 440,108 339,181 466,120 441,151 514,56 391,133 417,142 156,258 483,88 322,102 589,133 283,210 298,190 327,168 252,159 374,140 378,134 578,77 442,131 464,4 327,198 479,50 570,4 463,65 453,62 315,98 286,206 474,110 592,16 511,114 524,33 459,128 398,140 584,84 90,292 589,54 419,100 507,98 207,170 571,86 330,125 321,180 379,103 404,107 578,25 576,101 284,207 334,142 517,34 333,141 547,33 512,20 454,57 440,118 560,74 113,230 528,76 273,123 352,142 536,103 548,55 304,138 223,214 475,96 541,25 404,176 579,26 588,4 558,45 264,178 489,34 280,208 151,212 575,4 559,4 365,133 495,82 529,41 308,171 462,75 295,203 439,85 404,149 369,190 586,156 286,156 225,229 478,59 526,65 448,54 381,156 503,4 476,72 323,188 280,215 583,4 424,66 561,119 456,66 423,150 284,132 439,128 588,4 414,111 541,67 542,99 393,103 511,67 472,114 538,42 322,131 463,69 504,4 356,159 583,71 435,64 196,243 559,4 409,122 227,173 185,182 229,204 490,143 361,135 561,40 558,23 283,203 513,52 508,5 530,116 450,91 242,168 340,141 461,46 275,188 379,157 539,55 537,45 314,152 407,119 478,55 582,33 260,218 504,24 541,132 589,78 221,182 512,4 242,153 566,21 272,167 271,160 494,30 508,101 226,184 234,197 371,169 540,4 224,193 404,108 539,7 303,179 574,4 261,143 403,133 324,198 412,50 507,29 465,75 300,190 540,102 455,109 104,242 549,26 525,143 368,149 410,192 272,178 519,135 508,90 467,66 390,153 588,63 250,196 420,116 439,35 221,199 538,34 407,133 556,36 569,38 510,53 585,4 479,22 238,169 504,42 448,44 437,35 583,70 540,73 458,77 479,98 538,29 68,313 124,276 550,128 499,103 492,108 219,213 560,4 400,49 203,174 531,83 566,28 434,153 571,30 371,124 251,170 499,100 436,67 69,310 262,179 302,169 350,158 565,98 349,183 466,125 571,11 421,77 97,290 287,168 439,79 494,117 588,4 583,27 310,160 554,76 588,4 176,186 491,30 309,134 282,150 394,166 521,4 419,163 529,37 511,116 424,93 552,4 248,203 241,216 573,132 231,184 69,312 527,81 270,183 561,114 430,148 378,159 344,178 308,97 532,105 503,119 428,131 547,5 214,232 539,106 355,147 503,87 268,167 436,81 470,5 376,158 449,56 554,39 414,106 330,167 489,137 316,162 546,21 578,39 138,195 483,28 420,46 546,86 528,97 441,32 541,26 225,176 261,170 504,89 449,108 535,40 323,207 582,4 299,173 204,238 332,157 545,9 237,165 576,4 417,150 593,105 389,139 256,165 550,4 200,243 231,212 469,53 410,165 457,116 525,14 580,4 288,188 276,182 352,168 301,176 232,204 529,112 345,110 285,206 241,203 275,183 322,190 246,163 248,208 241,190 565,4 461,139 454,118 443,121 560,16 523,4 214,185 553,4 490,176 415,101 480,56 589,4 371,102 383,192 506,9 443,67 493,40 506,91 576,51 442,39 554,65 401,130 579,81 541,63 417,99 420,119 280,195 432,158 587,61 414,92 275,180 507,37 570,92 496,88 376,109 256,156 409,206 404,90 259,185 235,225 353,128 166,200 397,165 564,59 516,58 439,76 497,59 517,90 490,116 380,139 550,69 215,213 289,201 544,45 576,4 430,123 479,111 588,21 505,30 553,38 326,105 125,273 427,37 460,172 443,17 578,74 457,31 482,106 414,48 135,221 280,174 378,159 339,141 215,229 488,133 555,4 464,111 447,130 384,122 357,181 524,8 482,4 549,30 527,65 557,91 549,31 490,4 570,4 550,38 481,113 227,213 231,184 592,133 229,145 536,157 502,67 500,43 591,4 477,110 493,117 466,91 453,72 301,192 574,106 503,164 533,35 471,111 506,35 281,164 534,18 96,288 562,86 538,4 516,136 316,146 299,154 317,170 474,69 535,95 500,73 136,221 253,149 558,4 433,156 418,106 285,207 484,4 460,91 593,10 357,182 429,70 323,130 494,118 67,295 418,116 275,188 219,192 453,123 504,83 263,150 484,27 391,189 582,4 526,67 263,200 527,59 465,44 518,129 529,4 275,179 513,100 573,50 498,80 520,110 524,61 479,40 501,88 423,91 486,51 363,139 563,96 574,4 566,31 371,137 570,116 286,140 140,217 280,144 240,170 594,8 563,4 573,91 589,83 370,109 281,187 429,123 161,259 450,102 479,108 437,129 471,189 469,100 451,60 523,35 538,123 587,107 351,151 591,4 458,118 555,41 515,39 256,174 502,108 452,88 444,48 228,200 506,77 464,147 585,71 501,43 299,191 509,20 464,32 557,4 463,88 468,98 470,95 512,50 418,80 558,135 305,161 593,4 125,227 589,73 433,54 591,86 461,138 534,107 533,40 376,165 573,26 195,243 327,147 496,4 563,4 357,137 424,10 470,96 533,18 548,4 575,68 435,122 456,148 322,191 303,212 316,187 590,116 571,78 555,61 130,270 269,189 585,32 552,19 142,267 270,212 357,136 554,87 579,64 301,194 222,232 491,4 454,149 428,129 466,131 556,4 410,120 465,76 460,93 323,146 341,149 572,22 587,21 515,117 501,95 376,147 484,117 463,138 510,147 426,113 548,4 530,106 281,182 571,41 107,240 483,51 249,170 312,87 585,4 277,189 410,121 539,93 401,129 573,88 573,35 369,171 236,193 244,141 349,148 495,77 522,116 437,81 489,25 523,84 113,278 243,202 373,178 260,223 415,155 308,156 260,226 394,38 292,150 218,225 529,97 500,61 547,50 415,97 534,4 560,62 535,4 429,166 560,70 592,21 320,152 252,224 580,83 442,92 260,159 219,213 349,128 590,61 292,166 535,117 556,50 521,86 510,11 455,73 118,276 233,222 539,117 335,149 113,230 221,204 467,29 545,4 559,51 461,54 505,73 430,93 553,107 140,214 457,23 400,121 579,4 364,118 555,47 485,146 500,81 490,120 314,196 502,4 508,4 417,124 450,31 303,139 477,152 477,126 422,118 577,14 365,113 456,181 487,128 589,4 577,87 242,161 452,67 504,115 590,110 245,185 433,145 572,4 494,63 292,216 370,157 566,47 448,96 426,151 514,124 512,59 500,4 346,153 313,109 575,4 385,127 444,68 583,16 538,77 590,78 269,209 547,35 252,210 534,111 412,144 561,90 143,210 522,120 363,119 314,199 404,166 516,18 370,121 394,163 593,82 339,161 214,231 309,170 361,167 372,148 266,158 588,4 234,179 397,106 590,4 504,109 526,4 567,92 437,101 510,51 456,158 328,150 223,220 229,183 554,4 214,231 261,225 111,233 211,237 281,148 426,102 116,281 504,36 422,46 579,71 410,98 488,85 519,4 548,30 415,98 245,200 446,111 324,156 514,19 456,84 372,104 541,10 505,4 535,39 253,165 480,128 436,129 415,64 388,167 385,156 455,134 78,276 496,53 214,207 482,89 441,84 570,4 471,82 428,65 224,215 573,147 576,12 453,94 121,227 299,203 233,221 508,5 500,46 485,4 573,52 473,118 302,218 559,157 270,171 565,4 248,194 515,107 295,203 509,79 583,4 333,200 489,95 443,89 220,213 533,117 149,262 254,171 283,222 431,70 530,36 424,113 493,97 355,162 374,175 516,44 95,249 576,65 253,152 557,4 532,79 232,212 434,105 320,203 329,117 395,135 566,4 408,136 307,152 495,79 427,113 556,22 418,14 569,4 582,4 478,65 246,162 464,122 338,148 444,73 369,131 532,86 197,166 330,127 473,67 423,83 483,148 482,109 564,29 310,131 432,86 202,155 398,107 265,171 594,4 546,61 502,22 412,136 214,161 585,4 217,240 560,6 472,115 494,91 531,92 244,211 539,11 437,152 503,98 446,40 473,45 495,175 179,193 153,260 529,78 484,71 401,138 244,154 284,135 522,107 579,40 582,53 103,285 286,138 330,175 496,54 143,268 160,255 581,17 289,143 412,149 253,166 474,85 529,9 586,81 285,185 522,32 409,69 132,270 353,148 553,35 587,62 546,37 285,201 271,213 570,52 476,77 429,45 453,151 189,240 510,4 558,35 404,98 573,80 278,182 590,55 562,104 260,152 465,131 474,96 339,128 299,154 241,207 237,188 262,246 572,8 587,52 244,154 255,218 255,178 524,9 581,4 574,27 483,79 524,4 251,200 487,127 160,204 366,147 505,87 329,161 103,289 504,124 262,198 509,4 230,180 498,113 351,126 405,100 417,89 593,107 388,116 541,100 449,118 367,59 448,87 248,213 277,157 304,173 326,162 558,103 68,288 528,111 537,16 432,126 572,48 173,200 454,122 222,235 426,110 571,116 232,237 511,131 484,115 443,66 506,111 498,11 398,150 553,125 573,4 232,200 401,86 550,6 517,126 531,68 373,181 541,92 582,100 382,149 369,93 523,99 524,33 501,44 330,129 401,167 580,12 525,4 223,228 390,101 223,211 570,4 553,4 330,126 390,131 575,30 535,91 554,36 119,278 511,105 455,97 530,29 190,179 589,19 487,139 559,123 474,80 533,63 316,193 325,183 328,146 256,185 584,5 236,158 418,73 442,164 593,87 368,145 78,275 328,179 236,188 552,27 560,4 232,231 542,81 258,198 414,147 477,63 566,122 464,159 393,178 444,136 246,189 430,83 521,54 324,136 345,169 481,140 398,157 532,53 442,98 517,55 526,70 447,179 455,58 560,102 579,4 229,171 503,4 491,111 364,133 287,239 296,136 241,189 320,181 319,195 515,21 592,76 518,111 537,4 319,152 438,32 547,13 242,177 565,4 236,228 511,51 327,136 474,52 548,72 323,159 249,207 380,157 498,127 478,28 365,124 401,86 314,181 356,165 283,220 399,155 360,171 386,58 468,5 468,49 434,54 536,59 126,227 408,160 468,66 247,223 359,165 252,203 443,146 509,4 400,153 572,42 433,142 425,138 380,96 535,129 336,183 68,307 293,222 311,151 591,4 390,103 493,92 354,182 274,144 245,226 336,142 422,122 484,69 374,158 556,62 479,37 445,106 505,33 464,66 585,4 572,4 289,133 336,159 575,24 258,164 355,193 230,209 563,41 582,97 552,120 555,4 338,160 309,175 132,223 364,121 467,138 497,129 132,271 565,100 567,52 536,127 464,41 296,170 337,186 423,97 295,129 215,170 346,130 270,219 303,100 411,85 391,119 588,66 418,25 382,109 292,181 586,4 509,4 431,37 497,74 379,118 480,18 526,4 189,183 379,172 575,92 583,17 514,85 535,54 279,123 448,200 294,180 494,104 164,258 382,168 455,101 578,31 499,83 545,101 554,4 475,139 446,128 135,218 455,191 509,63 238,236 147,265 589,11 501,60 79,301 432,20 531,8 479,122 127,221 584,4 537,121 563,41 500,50 307,147 578,4 494,136 568,46 593,29 484,171 333,165 400,169 520,4 249,190 570,66 437,188 329,158 356,182 482,97 401,133 544,118 304,161 304,107 555,55 438,119 491,121 390,184 332,142 580,50 257,144 507,41 416,129 362,171 587,4 445,45 489,57 272,226 551,80 501,85 294,192 302,187 216,218 460,129 396,117 412,91 497,78 570,105 462,169 415,158 232,216 439,166 553,4 557,4 213,235 501,67 583,4 467,117 386,160 393,82 536,18 482,110 587,90 468,53 492,25 560,18 421,178 463,166 594,4 589,85 251,175 497,58 488,4 220,209 396,130 467,141 439,119 504,115 507,66 271,209 285,170 450,120 175,198 577,86 459,132 476,101 503,45 592,108 541,35 432,117 427,130 509,171 137,266 272,194 322,148 490,135 497,66 364,192 511,90 429,152 321,123 87,256 378,136 219,197 537,41 246,214 564,46 374,131 326,132 312,209 558,4 231,205 554,4 418,152 352,103 264,223 424,173 473,112 396,124 502,93 570,56 494,118 583,36 132,215 265,175 522,27 487,50 459,126 471,115 545,41 137,215 571,80 290,151 71,307 551,63 544,10 506,40 366,158 319,170 393,108 222,173 430,24 476,110 224,240 496,44 276,182 231,186 371,142 480,4 463,124 568,4 478,37 562,13 270,192 470,20 503,33 420,54 395,114 568,64 514,89 234,186 294,136 505,4 263,150 102,287 422,109 499,123 233,241 450,50 284,194 193,163 514,75 288,123 408,164 347,163 240,204 591,4 548,47 164,203 486,99 417,112 512,4 487,87 510,7 314,112 428,75 353,107 326,201 435,152 292,170 532,88 543,30 228,187 482,73 294,170 440,4 226,175 506,16 438,153 467,57 464,117 245,150 326,166 431,106 533,12 290,217 404,105 469,152 542,96 592,56 591,4 568,4 589,30 355,110 526,66 574,4 559,4 562,106 335,170 459,77 423,83 316,165 407,103 248,226 279,167 575,90 430,176 464,36 435,48 313,110 516,109 574,4 576,4 464,66 500,119 84,295 570,48 427,102 279,173 532,4 564,4 553,39 469,88 565,4 408,136 257,186 564,4 545,126 521,82 357,133 446,94 422,137 527,129 474,85 385,168 455,102 346,144 275,183 422,4 465,31 503,43 405,167 499,144 382,180 550,32 163,255 257,131 374,107 514,66 512,51 161,202 395,148 421,112 501,119 297,208 494,4 318,197 497,98 560,97 230,218 420,97 514,39 504,137 419,76 255,140 579,14 564,4 482,105 590,56 427,91 510,74 237,219 491,100 319,152 519,119 506,22 547,40 294,149 533,27 420,60 443,173 250,198 497,49 524,4 482,53 509,43 194,239 399,90 450,124 491,166 251,199 567,25 510,111 480,72 158,206 561,139 140,205 482,77 528,104 460,20 338,191 263,151 575,101 223,185 593,61 469,69 566,134 350,169 291,176 536,4 571,50 234,200 363,154 228,206 442,88 533,117 221,216 400,104 494,104 403,120 410,82 465,207 479,25 519,106 589,4 485,20 527,106 464,82 375,109 377,147 485,132 527,65 481,81 447,38 580,70 524,114 251,163 591,133 570,91 504,58 291,189 506,104 227,160 290,170 366,141 379,105 534,110 532,89 534,108 561,11 477,44 273,134 217,206 453,98 503,4 533,135 594,82 339,102 228,244 493,39 220,189 315,157 575,4 555,17 422,134 247,207 583,4 267,180 294,154 239,215 570,76 439,66 422,136 290,203 308,142 258,151 540,4 463,96 304,200 448,55 486,34 321,156 416,4 275,200 264,205 592,46 311,134 281,201 397,134 546,117 426,146 551,4 510,74 219,171 371,90 467,21 561,42 233,180 277,166 507,117 580,48 311,179 355,163 557,61 509,4 206,235 239,227 413,121 428,41 550,77 108,284 453,155 330,154 253,151 295,141 285,189 397,99 506,39 455,90 221,212 557,99 560,7 504,66 264,183 208,166 261,182 493,64 259,236 459,5 579,59 377,150 428,118 497,6 545,37 510,32 450,76 542,74 367,178 462,108 380,168 577,4 278,218 443,74 255,161 484,114 376,169 223,174 507,19 518,69 348,130 508,4 545,6 518,4 521,104 435,171 223,172 564,107 151,262 274,217 208,240 250,175 590,85 347,166 534,92 451,33 575,53 551,41 543,69 177,247 393,131 456,62 446,94 258,154 400,133 544,62 582,69 567,58 428,79 436,84 573,23 455,122 110,281 300,137 219,231 259,176 72,308 533,4 559,70 557,101 574,48 490,112 393,120 504,121 516,98 463,77 415,153 504,46 391,187 339,196 290,162 399,55 500,81 400,137 217,176 153,210 528,112 582,13 507,128 530,19 351,160 267,185 441,111 450,96 578,4 579,4 530,134 514,112 523,53 454,65 238,185 243,207 585,30 567,102 289,218 563,53 586,4 569,27 545,4 585,91 566,10 354,138 241,141 431,150 555,90 307,177 490,80 448,48 334,177 522,39 531,28 542,135 579,4 399,155 189,249 178,249 446,66 490,92 353,190 498,40 401,69 193,242 364,142 265,136 475,140 569,109 360,163 322,205 573,120 221,225 468,88 578,48 570,4 561,17 194,242 455,58 528,108 531,120 437,134 503,28 347,157 464,163 390,141 418,123 511,97 564,113 435,136 472,140 530,33 554,4 308,164 249,187 271,173 344,198 457,57 464,38 338,174 496,135 589,4 227,185 491,130 280,225 507,63 238,182 460,179 377,140 517,74 230,173 471,89 294,195 154,259 444,107 431,127 569,4 281,86 283,149 424,159 408,151 267,169 357,185 375,173 476,74 594,4 481,102 423,95 582,102 343,174 520,4 588,77 390,67 367,130 589,4 123,227 226,207 277,150 288,148 456,71 509,5 572,4 535,47 430,72 296,90 341,178 478,71 360,165 593,4 359,136 547,104 264,188 478,55 321,149 426,77 484,123 482,90 581,50 282,210 547,4 313,173 236,185 249,159 593,10 500,144 436,71 273,136 444,32 581,4 408,108 215,192 514,58 575,86 276,189 552,67 543,121 415,104 386,143 309,167 567,4 546,4 308,251 479,127 407,140 454,151 457,4 476,92 583,4 542,4 359,157 308,181 515,61 354,137 430,74 381,94 505,4 530,62 392,133 448,4 298,173 516,67 463,76 331,182 583,40 311,191 494,144 544,95 456,140 270,175 314,164 501,31 333,213 519,58 464,99 417,118 345,174 427,170 563,4 236,138 456,64 453,86 265,129 544,4 429,119 348,140 434,52 273,209 542,145 494,131 256,195 582,38 572,54 423,57 353,187 564,62 430,129 487,114 103,286 561,4 462,99 463,119 236,224 293,154 478,4 578,34 563,4 400,129 187,242 378,158 501,124 501,155 541,63 462,140 570,4 371,130 217,172 463,18 145,216 454,148 137,213 534,72 534,4 247,202 519,77 437,91 587,4 412,168 529,104 467,143 397,167 346,173 325,128 564,41 242,194 444,126 227,185 508,28 203,241 488,78 365,139 500,7 454,77 572,79 545,132 503,23 331,151 321,142 298,124 496,96 476,110 530,49 222,222 209,171 462,35 283,139 222,189 241,163 273,211 69,310 481,82 549,92 382,92 542,22 545,31 508,34 446,125 443,142 568,61 472,51 444,44 586,24 525,4 375,118 558,7 523,110 590,72 538,102 561,4 529,109 438,158 357,155 366,177 307,180 525,95 400,89 416,74 539,103 461,94 230,216 467,119 406,156 387,188 516,4 325,125 247,182 191,184 496,43 299,185 391,135 404,92 549,53 556,4 464,73 509,32 391,43 518,4 243,180 420,37 435,87 393,112 576,18 450,130 589,95 306,180 521,147 498,119 308,192 255,155 447,107 526,106 372,147 531,30 267,152 385,115 549,4 242,200 512,123 526,4 502,97 511,118 221,215 454,74 449,142 583,92 551,11 222,217 396,177 257,196 505,22 127,275 542,105 539,61 471,52 503,4 513,68 510,13 445,106 354,172 382,105 546,34 590,96 459,147 391,145 466,56 344,167 502,122 508,57 447,121 420,136 584,4 258,158 504,70 384,111 480,123 554,10 556,107 434,139 282,133 257,178 568,4 298,172 345,128 90,256 258,198 324,177 354,183 410,45 124,273 374,149 578,62 582,65 531,121 522,4 431,84 411,91 549,86 464,57 485,114 562,29 435,89 537,4 455,129 310,201 512,4 511,40 310,156 99,285 408,73 485,63 426,176 397,123 458,115 303,153 441,70 415,91 416,122 287,213 577,67 502,45 572,71 239,193 509,4 214,171 232,223 549,13 345,136 302,184 405,176 518,86 451,32 485,37 471,73 573,5 452,67 523,4 239,223 288,167 379,105 594,4 411,168 499,4 265,147 477,54 523,38 341,113 562,33 583,58 594,31 407,151 444,185 394,128 227,210 118,233 240,218 345,164 377,127 528,4 245,174 469,92 480,133 448,39 431,156 494,117 581,4 520,66 571,18 532,4 239,219 87,262 225,223 526,59 450,98 128,225 428,150 286,189 511,124 474,19 378,138 306,143 414,131 399,138 278,196 504,106 589,77 577,121 468,168 304,203 332,181 297,156 432,106 469,123 503,102 472,81 424,54 496,132 279,201 510,120 511,99 426,174 264,178 259,193 576,123 111,281 477,85 420,110 561,4 341,150 567,72 528,83 112,229 203,235 534,70 318,140 191,241 515,123 549,111 530,88 522,80 287,151 462,124 592,40 547,60 538,4 497,90 372,119 298,197 355,167 459,83 572,118 453,108 556,4 515,89 583,29 245,216 592,105 122,274 511,5 464,41 366,170 391,124 281,202 583,4 486,74 325,162 556,4 545,50 263,153 238,168 575,66 530,60 68,289 388,183 545,110 314,199 557,117 432,107 570,4 538,37 517,4 443,144 320,127 373,140 234,220 577,103 309,144 551,115 467,57 344,135 279,193 213,236 347,149 252,191 242,167 570,5 594,61 525,67 286,219 514,60 321,121 419,176 548,78 229,179 226,175 506,114 250,141 112,281 574,4 575,101 564,55 323,137 95,288 548,166 389,157 572,167 225,190 262,195 396,123 508,92 265,205 534,97 570,4 581,71 242,184 565,101 105,236 560,54 581,103 470,105 86,260 569,58 263,166 520,42 303,163 548,102 231,162 375,143 405,154 426,64 515,90 285,168 375,141 572,67 561,69 449,92 265,173 256,230 589,80 479,96 546,4 536,52 574,75 508,108 156,204 404,88 544,59 485,163 493,86 99,244 568,46 470,70 193,242 233,187 568,34 115,280 490,98 463,22 513,92 527,74 414,92 533,6 456,139 465,97 552,4 445,155 571,4 517,4 222,161 483,86 281,191 470,4 489,144 337,121 504,124 534,49 279,149 421,105 537,4 523,116 413,134 360,157 258,210 390,110 328,130 575,53 495,135 138,270 327,172 557,91 222,223 579,71 255,194 310,125 374,142 585,53 474,67 231,221 420,128 560,70 224,202 589,90 356,159 430,135 446,27 509,137 295,170 424,78 359,136 523,4 215,181 231,210 230,188 397,35 522,92 569,49 549,58 237,151 393,42 388,167 485,40 431,95 593,68 504,81 451,87 144,263 410,165 356,127 131,220 440,116 222,194 434,66 558,122 383,131 483,67 372,186 69,285 592,120 518,33 506,61 510,18 397,149 561,10 185,183 305,174 227,166 551,79 494,4 131,270 529,24 325,226 504,4 411,122 316,151 409,156 511,52 399,128 500,41 560,106 483,40 212,235 537,4 495,62 242,170 449,98 419,133 441,124 464,84 545,66 512,99 536,21 560,47 307,192 477,111 571,31 467,89 576,91 518,4 342,150 547,49 485,36 255,165 518,13 553,83 492,90 574,139 481,91 282,141 562,113 415,108 568,81 448,147 413,85 227,197 381,99 507,89 269,180 268,157 511,27 539,73 174,199 362,176 256,200 438,57 568,55 443,144 442,129 337,88 95,248 577,4 462,87 243,154 533,4 342,180 463,64 231,228 358,175 439,102 587,4 577,4 573,131 325,131 135,274 220,224 581,4 488,24 591,4 489,25 491,147 463,157 459,101 520,4 540,53 323,204 305,157 358,223 271,177 395,173 405,145 560,4 592,54 275,209 477,92 502,82 110,237 526,4 129,272 342,150 310,168 584,102 515,47 328,184 544,4 332,159 538,61 558,82 369,126 445,168 511,46 570,84 260,199 586,30 352,158 475,61 559,120 388,174 521,105 581,4 594,109 583,33 476,129 230,173 186,182 383,138 542,4 513,57 313,177 216,174 226,214 407,52 507,120 235,192 376,107 406,157 418,132 560,4 542,93 545,63 263,204 530,36 449,135 285,203 542,142 517,100 539,83 571,4 504,41 402,141 226,180 535,37 100,231 418,163 311,138 563,4 485,111 436,137 568,101 454,31 312,207 476,144 424,41 376,168 592,21 242,199 557,4 431,121 493,33 393,86 561,111 534,12 538,34 513,106 265,162 378,128 544,61 594,4 540,35 538,134 562,102 553,77 249,188 593,41 303,201 427,90 578,12 572,4 436,82 304,212 504,52 467,30 141,266 474,122 233,221 305,111 364,149 380,95 399,74 399,112 589,4 518,33 529,14 519,37 594,47 562,60 171,201 374,173 530,48 239,226 562,21 338,164 511,96 511,89 183,246 454,105 228,217 495,101 374,151 389,195 534,72 411,157 381,11 390,144 375,171 237,157 507,75 501,20 591,16 480,125 353,110 471,50 477,70 340,142 422,147 233,221 196,177 305,149 426,139 448,103 510,4 535,11 565,68 317,205 278,174 377,166 366,129 501,16 393,62 202,175 441,194 527,29 465,115 533,30 532,102 377,139 144,271 452,56 464,61 497,82 381,125 394,112 536,4 299,140 521,83 544,21 304,198 250,196 411,174 562,16 285,137 362,169 580,4 357,79 585,100 531,112 593,12 488,101 402,78 500,81 145,267 373,184 471,49 300,169 271,156 419,137 549,104 519,128 477,30 408,187 496,99 424,110 554,84 465,112 302,201 453,151 339,180 239,203 583,58 234,153 576,98 549,130 483,45 284,174 493,33 265,216 256,168 472,106 494,128 558,36 533,37 526,52 531,28 527,7 491,20 524,17 458,44 592,28 563,4 542,159 520,69 233,182 300,111 576,4 442,126 466,101 592,34 553,98 581,48 363,147 425,141 487,52 576,60 125,221 324,137 586,4 519,31 267,200 316,161 372,113 465,15 356,179 420,76 314,98 431,140 552,56 591,56 538,119 218,207 565,15 353,155 498,79 387,93 570,29 239,177 258,191 233,159 457,71 589,4 575,6 453,121 554,4 529,9 269,184 230,180 341,196 82,301 223,224 540,41 479,126 387,170 323,107 471,94 243,169 566,41 268,209 431,78 536,88 565,104 472,120 464,132 66,311 543,4 420,115 240,198 539,5 215,167 273,184 572,11 244,184 318,205 507,84 565,96 568,116 384,192 547,44 520,97 454,96 502,80 506,26 588,88 568,4 508,79 410,145 522,48 297,180 244,175 359,130 561,147 336,189 87,262 426,152 588,4 450,125 418,130 269,205 547,69 168,201 309,210 174,251 130,217 528,4 446,74 563,30 531,52 245,154 515,67 503,28 409,145 582,4 564,46 458,68 286,173 588,46 447,81 472,81 545,4 513,34 517,50 458,135 533,6 488,125 425,146 431,45 290,194 236,188 235,214 509,64 65,298 540,88 197,237 322,131 108,238 431,109 539,24 366,113 490,29 457,132 292,166 368,165 560,81 257,200 579,14 306,165 521,6 302,174 381,171 214,216 168,250 358,170 432,19 225,240 495,30 520,36 289,194 237,187 227,145 320,132 571,99 532,123 525,107 431,173 500,55 585,68 215,236 458,149 347,182 401,73 370,170 237,172 565,107 211,161 543,49 531,46 583,19 454,80 588,29 541,51 371,120 589,4 459,193 517,125 516,85 472,128 74,271 318,138 550,89 266,185 322,196 566,30 588,24 550,15 237,227 594,67 290,119 317,186 318,145 451,92 504,20 184,183 289,192 376,167 579,27 534,86 344,150 213,233 265,179 456,122 379,174 411,97 594,58 443,105 303,188 508,100 299,213 352,164 480,135 518,117 589,125 575,4 245,229 384,122 398,70 239,179 257,187 455,136 268,180 220,174 525,126 478,101 381,169 498,121 468,128 168,253 224,230 585,25 385,145 566,52 570,106 397,93 446,76 564,4 384,126 517,41 552,89 372,181 226,221 216,193 287,174 372,176 558,23 343,138 555,67 461,4 549,102 423,124 440,134 524,33 504,51 570,4 503,33 471,46 589,83 426,119 482,64 304,91 497,72 433,108 479,115 558,72 368,190 170,195 350,133 590,4 348,138 114,235 229,223 553,44 504,47 497,54 357,146 507,120 94,250 285,175 142,214 562,9 503,133 489,129 99,247 482,67 426,90 334,180 315,194 389,64 434,86 458,89 222,185 581,89 409,108 245,173 432,138 263,229 521,49 532,82 445,115 415,118 451,11 586,83 560,4 305,130 526,4 587,4 451,90 571,137 594,4 395,150 543,73 471,20 571,97 536,34 512,114 259,162 367,180 445,115 494,153 447,46 403,129 204,175 546,67 454,149 165,251 503,92 492,117 291,134 203,237 285,160 460,95 442,97 571,4 404,158 546,26 363,160 525,54 298,185 391,155 418,86 480,118 283,164 493,51 151,211 420,83 287,149 558,97 577,4 240,179 300,187 588,95 354,72 236,212 544,77 467,104 499,60 547,4 511,20 452,51 492,74 520,77 236,196 259,144 271,188 582,4 324,180 436,65 244,177 344,150 266,176 330,122 553,4 500,94 325,186 520,65 421,100 353,138 492,62 323,126 453,51 400,121 468,70 480,64 591,8 564,98 580,32 467,101 474,75 550,83 379,176 582,36 525,31 560,105 533,4 383,149 374,173 566,4 565,40 497,123 238,228 268,165 410,103 308,192 512,63 329,146 493,81 331,141 568,4 227,148 590,4 498,4 229,181 152,267 555,60 548,55 356,170 501,129 405,140 535,55 566,109 230,158 102,242 362,89 546,115 538,74 493,66 416,81 368,185 556,82 474,118 221,194 464,108 551,122 520,32 541,74 389,136 335,130 456,92 257,149 438,124 269,165 95,288 571,165 565,4 566,42 410,100 480,139 237,197 322,185 427,197 292,121 490,4 246,194 547,40 420,5 344,128 382,165 482,62 289,193 80,300 506,4 492,115 287,138 527,4 508,84 357,122 316,189 288,210 238,176 545,4 458,119 578,66 531,4 381,161 493,78 590,77 282,215 523,47 519,4 479,104 233,160 137,205 592,51 473,134 229,203 353,147 394,70 310,134 283,166 423,91 308,154 78,301 293,196 507,50 264,208 422,135 570,13 413,103 166,254 490,135 446,72 457,91 592,45 445,4 414,131 554,30 452,34 473,126 479,54 284,221 452,157 85,296 428,98 463,167 551,4 310,158 439,96 369,103 312,212 498,87 545,18 584,4 364,164 497,108 527,86 397,112 313,193 586,111 384,160 482,84 561,53 460,4 498,87 238,191 470,109 274,152 333,152 465,132 548,104 558,4 494,4 579,90 556,103 551,102 508,75 309,129 581,107 559,4 206,242 486,76 571,82 558,108 257,144 529,35 489,47 368,116 569,111 113,234 227,224 532,63 223,177 512,62 514,91 491,96 495,87 539,80 401,109 569,4 281,124 307,173 262,184 580,43 357,135 510,91 446,118 384,161 434,81 474,101 522,71 518,22 455,93 485,104 471,134 587,4 451,149 510,104 262,156 582,53 252,203 349,115 533,10 156,205 327,134 404,134 215,216 248,171 523,108 539,5 171,249 302,138 577,83 88,256 224,141 533,118 318,165 331,209 550,101 393,37 549,69 572,79 467,111 535,95 456,88 425,116 506,121 521,68 541,13 568,45 230,163 453,162 229,170 572,4 524,108 521,82 215,173 294,158 567,4 98,247 380,168 571,84 359,126 571,4 384,166 279,169 494,48 542,4 489,105 472,130 176,189 507,64 563,46 281,225 435,57 519,53 245,205 549,46 563,36 462,130 541,31 218,180 224,198 306,168 463,46 587,33 398,85 262,218 247,180 378,144 528,4 475,82 93,288 433,101 572,4 136,269 489,66 533,75 326,179 301,146 463,62 298,173 510,35 491,97 317,183 246,200 524,81 389,115 513,161 338,153 248,158 507,98 192,250 306,136 372,92 552,20 416,96 498,4 561,4 278,163 410,75 467,114 218,210 523,73 511,4 234,210 260,152 546,94 275,150 548,24 525,102 462,81 569,43 476,94 345,155 174,198 516,117 459,159 509,110 577,82 316,171 400,105 492,148 315,184 118,233 495,84 551,23 526,119 500,4 346,146 525,44 528,77 475,85 496,8 378,106 585,44 440,114 440,145 501,134 579,69 564,47 220,210 75,279 320,139 401,127 510,38 473,126 524,90 410,176 578,89 489,20 471,79 446,4 541,56 495,76 464,40 442,114 356,130 577,62 534,64 509,42 353,142 459,72 455,101 590,4 530,117 246,193 511,42 476,4 509,59 196,180 266,199 561,26 502,82 537,99 574,36 338,81 475,68 574,4 506,52 566,4 316,93 244,220 490,134 589,21 451,37 448,35 573,4 367,175 348,164 125,223 402,117 230,218 493,67 477,28 233,169 386,134 442,137 430,46 271,212 401,82 99,287 593,6 250,201 562,43 175,246 334,194 521,52 122,273 393,102 428,13 127,219 226,220 391,91 451,123 549,23 379,155 263,158 434,120 543,52 94,251 439,76 594,55 548,37 516,42 414,139 500,124 371,201 359,174 545,4 63,300 447,134 458,74 564,43 294,198 274,141 475,4 576,70 262,168 466,65 457,77 452,88 532,86 514,71 479,110 491,61 398,148 534,4 287,124 484,4 432,76 260,145 410,101 403,177 502,105 519,79 238,185 516,83 290,149 592,4 556,4 442,115 559,56 197,175 366,182 373,180 442,132 571,68 394,163 244,226 275,151 583,42 293,200 575,6 463,142 268,123 244,220 248,200 540,94 529,105 270,199 381,180 537,113 579,100 462,4 469,4 433,143 435,4 539,75 551,43 119,219 483,109 500,54 579,4 425,117 358,182 320,134 405,64 397,164 559,91 466,141 235,199 371,152 452,45 264,202 583,4 296,204 405,105 267,224 462,66 532,105 412,94 274,132 559,33 511,63 250,176 489,86 219,202 489,4 448,4 189,241 521,4 551,117 593,90 549,12 419,94 459,77 269,163 238,203 358,119 421,4 268,162 368,176 351,225 443,4 442,116 483,79 366,73 96,288 301,164 258,222 250,175 405,133 483,139 536,4 585,118 520,54 544,74 266,201 272,179 320,151 492,29 589,66 271,199 430,130 334,93 478,111 462,72 475,106 589,42 491,4 510,168 564,4 257,155 195,176 387,116 293,156 564,12 566,5 578,42 511,17 178,177 498,30 435,79 426,159 352,136 315,156 511,61 406,186 495,87 572,4 219,161 468,137 499,93 137,267 469,99 475,25 149,212 401,148 517,102 257,153 425,65 554,23 422,91 503,59 264,229 567,100 550,105 407,118 557,26 293,171 248,232 342,122 82,265 535,11 79,301 276,209 220,163 349,134 456,119 489,118 484,88 329,73 256,212 279,200 358,131 461,133 312,167 370,138 163,195 527,40 495,4 430,161 501,63 479,73 534,96 227,222 461,111 408,47 86,261 510,34 304,119 558,4 316,176 498,23 232,159 536,90 519,4 497,132 562,75 469,44 558,68 584,4 548,112 481,45 272,197 568,35 426,120 567,4 424,50 448,34 573,31 369,129 366,111 142,217 312,133 451,39 441,127 358,157 476,151 440,160 566,7 560,14 569,79 133,218 248,124 550,66 504,122 373,126 553,116 556,52 107,285 228,231 218,218 482,68 428,87 274,216 159,203 403,70 519,109 306,191 369,207 556,72 262,155 261,161 433,70 571,90 251,217 561,106 579,4 408,185 480,66 570,18 488,124 220,179 316,123 537,95 481,40 582,52 469,120 329,165 305,195 352,133 261,203 404,88 537,119 192,179 567,72 329,128 483,49 520,122 462,4 386,154 359,171 481,50 588,4 543,4 412,13 412,87 347,120 409,146 237,223 294,210 550,71 588,4 495,4 432,64 128,221 524,88 344,169 455,144 459,131 405,133 268,151 313,129 330,131 281,154 562,4 543,96 574,35 263,210 452,107 344,181 575,104 283,107 360,128 499,4 315,151 524,4 507,144 467,127 86,261 184,246 364,125 288,128 389,154 577,77 242,188 415,61 564,111 538,63 354,110 403,146 258,151 525,4 493,24 547,71 398,70 416,115 580,20 256,196 291,193 462,113 285,162 239,166 152,212 214,161 322,118 511,39 298,219 252,225 99,292 553,27 589,4 542,62 410,126 420,140 572,99 274,184 567,76 526,95 530,73 504,94 513,63 558,82 495,97 131,222 561,4 248,234 236,208 503,112 256,175 279,114 229,204 374,152 499,4 182,247 474,83 547,4 537,139 291,212 353,143 466,87 221,211 592,14 520,6 579,114 491,51 378,95 239,197 555,106 541,45 527,7 563,4 273,184 484,91 516,128 541,108 533,134 579,83 390,90 544,30 281,223 593,65 417,128 532,15 587,31 541,4 426,111 500,79 507,69 329,166 396,117 535,94 474,73 553,115 448,132 386,176 412,129 449,148 409,69 126,277 367,113 513,122 588,76 544,4 222,221 319,150 524,79 332,201 205,174 218,181 313,134 454,130 444,125 365,172 431,34 475,47 553,59 80,267 533,113 522,21 508,74 340,128 540,8 449,126 414,6 591,82 218,162 581,98 316,157 534,4 578,92 249,170 285,176 577,84 445,88 359,175 541,106 398,139 509,129 510,79 569,47 581,107 264,200 427,65 232,174 427,173 336,150 190,247 373,121 221,182 470,153 406,143 553,56 416,147 303,201 337,177 230,179 173,249 483,64 528,117 356,173 445,139 367,147 545,81 445,156 469,116 518,101 398,131 490,79 445,35 473,40 528,89 542,65 242,210 583,12 429,91 231,167 392,149 547,67 118,228 408,184 533,50 520,115 402,147 513,56 434,116 539,37 295,212 509,4 507,53 410,145 309,221 219,181 516,19 557,49 497,4 418,108 425,81 580,95 446,123 221,167 551,96 272,174 469,79 549,4 246,163 368,171 481,79 305,177 478,89 446,163 335,157 450,81 315,203 256,139 311,191 454,4 67,286 264,219 511,50 366,186 280,217 539,107 545,48 560,111 381,52 241,163 585,128 413,127 449,127 494,87 524,97 505,81 419,76 389,130 405,140 465,4 403,137 456,160 401,105 538,18 487,147 374,168 301,158 529,110 275,209 235,236 62,311 427,74 527,4 590,69 385,125 68,312 266,208 532,46 288,150 309,102 502,34 285,155 582,4 331,178 515,4 556,91 271,128 567,24 278,163 483,81 523,4 448,142 348,134 348,158 447,120 254,168 402,135 574,4 556,49 272,192 503,68 533,37 459,58 350,160 253,181 454,134 357,176 418,66 303,199 438,133 492,36 237,192 484,53 332,144 518,53 573,56 423,195 568,11 549,90 338,128 565,113 392,146 447,128 478,51 243,120 307,163 357,111 594,83 390,124 559,90 414,27 575,50 546,23 438,154 449,153 309,152 81,269 460,106 544,60 592,4 536,30 388,41 538,21 481,127 223,242 396,165 580,4 216,236 563,61 343,186 427,89 377,146 256,191 467,130 584,60 486,83 380,122 439,112 281,154 522,117 251,208 594,4 259,147 416,113 438,51 433,156 578,4 570,7 314,191 482,97 592,25 515,81 360,135 434,140 230,165 270,152 262,214 569,4 571,4 227,147 376,165 482,86 480,143 584,4 437,172 497,96 369,132 371,117 437,77 547,73 228,198 572,88 472,107 371,115 166,195 246,208 563,86 530,70 393,86 484,76 463,82 231,189 445,148 395,145 436,113 337,156 332,57 555,130 592,4 480,54 487,125 554,62 458,59 165,205 473,59 471,16 580,4 480,74 348,114 383,168 420,143 451,104 503,46 337,171 472,64 585,4 335,63 317,126 512,51 569,93 279,192 443,142 489,4 587,4 392,106 584,8 519,34 219,192 576,111 358,166 577,64 594,145 445,111 327,154 161,257 521,4 110,238 248,147 377,169 243,167 407,10 259,164 254,165 556,4 412,100 563,92 135,270 500,76 410,109 482,47 543,4 515,28 138,267 303,131 314,178 559,15 220,205 387,171 585,129 589,4 574,113 317,145 372,116 491,68 559,95 466,73 422,133 487,50 459,131 356,127 419,139 251,171 455,98 580,4 536,4 441,48 488,73 140,218 451,125 144,212 462,139 269,189 417,172 499,78 276,174 408,153 427,88 570,75 279,170 318,205 254,167 288,165 186,245 537,43 341,161 446,27 144,213 510,63 236,158 478,102 261,190 386,127 558,49 300,145 465,8 546,73 429,71 528,104 308,162 565,13 405,162 468,73 513,61 452,131 528,5 529,54 538,44 571,102 581,118 344,195 540,110 480,49 516,74 514,131 496,124 210,167 471,65 487,58 526,69 436,129 475,20 559,4 587,31 475,110 157,256 235,225 312,232 553,67 331,179 574,4 118,277 506,40 330,163 343,107 594,91 534,51 496,134 550,65 149,214 389,88 531,76 268,179 437,146 532,107 476,43 530,4 555,68 468,95 140,217 507,52 505,130 452,117 303,182 569,38 415,86 485,82 555,4 528,137 542,134 71,305 241,176 434,111 567,83 471,45 570,101 460,94 584,87 413,110 469,107 116,219 281,152 556,32 578,74 355,133 557,47 491,99 571,43 588,61 261,159 271,141 359,197 218,211 216,204 304,189 248,225 335,202 509,66 299,173 436,144 591,82 314,133 550,78 424,58 462,128 537,117 301,164 327,130 129,224 501,14 404,132 329,184 418,161 239,152 533,77 287,207 155,260 443,62 560,79 585,102 345,129 538,108 395,139 311,137 439,151 223,208 224,217 391,85 544,32 493,4 582,48 568,47 327,128 396,141 394,160 464,86 593,29 502,18 524,42 503,121 388,178 526,17 531,120 319,210 516,4 335,243 475,139 525,71 467,69 470,47 558,70 259,191 97,287 296,213 379,46 550,112 297,206 490,94 590,67 484,76 326,151 235,199 272,187 346,183 494,132 477,82 439,24 291,173 548,47 529,93 474,86 590,4 529,110 487,34 236,216 236,167 581,30 371,97 275,170 434,110 428,28 585,65 513,124 161,257 546,126 69,290 576,33 396,76 499,89 399,91 396,101 421,65 231,180 559,4 333,172 419,84 280,121 560,4 509,121 356,77 589,8 219,180 537,90 422,216 509,46 451,75 446,39 498,53 500,70 445,107 414,75 543,90 574,4 383,166 434,89 573,75 373,158 580,10 521,4 424,163 521,58 250,150 568,116 432,145 340,112 435,47 584,21 469,145 295,177 273,146 342,210 470,49 410,196 431,107 283,198 385,123 182,191 478,63 164,254 346,157 377,130 557,4 576,143 366,165 342,167 574,37 379,171 420,108 550,24 463,106 561,89 378,165 214,206 217,167 534,91 513,66 285,205 233,220 458,72 369,99 455,119 341,171 445,60 511,75 498,121 237,154 585,80 254,237 573,8 286,218 460,54 487,186 572,4 315,151 362,135 528,42 254,158 586,33 451,34 162,205 240,166 138,216 222,223 542,43 566,65 568,4 122,278 385,110 459,141 212,235 546,49 543,102 549,111 439,4 414,121 559,113 498,73 377,151 242,137 364,197 529,83 497,77 514,4 527,14 346,122 299,192 569,4 292,134 292,187 77,306 360,189 268,169 581,4 510,77 578,99 347,135 551,45 444,107 295,215 379,116 557,142 489,77 220,222 537,92 245,168 352,118 584,4 488,66 533,4 523,4 561,21 477,79 383,172 446,57 559,4 537,34 507,127 302,112 503,45 264,192 534,120 339,158 274,211 546,13 220,190 526,42 567,74 488,39 185,257 571,91 246,157 428,97 340,152 360,161 233,174 440,91 406,85 388,114 487,110 338,84 350,144 333,113 366,165 311,205 575,60 585,4 546,51 541,89 390,129 431,57 485,116 387,128 589,4 323,116 250,159 456,111 415,121 283,181 369,97 517,4 454,57 388,110 466,123 562,66 275,137 448,174 357,174 580,85 236,162 251,207 469,60 347,157 590,107 559,110 314,129 558,4 575,27 581,39 213,248 232,165 422,51 478,112 576,16 555,4 261,218 356,190 154,203 323,124 281,175 369,158 294,214 321,164 467,128 593,4 415,167 409,117 381,138 260,144 160,256 533,90 446,29 522,21 263,147 558,35 477,4 540,103 510,100 586,4 593,54 498,124 584,109 440,94 120,230 553,37 251,205 516,4 302,210 588,4 356,187 457,109 401,61 354,180 373,109 399,129 370,101 530,4 462,42 369,168 544,16 584,13 442,143 384,167 494,56 509,28 365,117 424,43 556,7 590,44 504,74 399,161 325,145 309,146 241,190 421,137 529,18 63,303 473,30 533,41 502,112 582,9 573,49 347,188 392,147 580,4 144,214 214,176 585,100 562,27 151,211 477,54 373,125 262,190 576,27 260,171 464,93 244,227 240,224 82,265 576,58 588,56 574,4 583,55 469,4 357,168 559,115 377,148 530,81 426,91 470,120 463,56 242,167 539,37 259,216 360,185 392,120 487,5 291,202 442,163 381,98 526,19 394,167 495,43 512,120 358,189 561,111 591,4 594,4 572,66 323,189 578,50 564,4 386,125 503,38 352,158 307,157 561,5 516,4 498,116 578,39 392,156 243,184 290,166 584,45 493,63 63,312 375,123 344,125 455,157 384,136 452,36 556,39 480,78 423,24 429,158 209,168 468,113 346,132 241,197 158,195 408,153 428,83 552,4 562,4 438,31 456,131 575,72 419,130 557,29 224,222 493,73 473,84 285,163 235,213 580,69 334,117 539,4 347,151 579,125 345,77 584,16 365,96 233,213 550,80 414,99 465,24 504,37 234,233 556,4 449,134 578,61 566,41 497,129 402,163 549,55 382,80 576,58 375,98 540,86 314,140 477,95 512,63 257,155 591,4 206,243 583,4 363,151 486,141 496,106 550,9 242,211 568,63 418,24 425,96 535,134 383,139 319,158 463,96 470,4 577,37 261,176 481,83 448,128 424,85 323,164 579,4 533,11 497,62 489,91 419,43 364,190 566,4 550,125 500,43 351,96 522,19 405,144 496,38 229,173 567,38 230,225 450,38 479,101 476,102 330,128 516,53 304,136 493,75 290,157 94,250 99,232 251,198 342,165 581,4 104,238 476,47 271,199 293,198 539,30 393,98 538,106 353,176 279,213 547,111 457,86 575,81 148,263 250,189 568,4 303,199 246,184 566,57 163,204 217,191 267,136 302,140 464,96 413,170 399,137 187,245 242,214 459,109 539,122 185,245 470,140 525,25 520,20 579,8 308,197 464,85 567,34 308,128 509,72 535,4 447,61 483,119 577,4 395,172 481,18 336,128 204,236 507,88 579,23 226,186 528,175 586,40 460,169 375,155 237,183 333,129 218,201 501,69 568,104 253,151 345,149 211,169 426,102 421,150 525,105 500,23 391,137 560,24 246,174 327,129 503,124 390,122 494,161 216,176 535,119 510,104 359,169 513,120 557,50 591,4 262,204 578,18 566,60 153,260 130,269 432,84 466,4 401,31 229,226 514,36 531,10 584,100 516,4 486,119 569,33 554,11 233,233 456,138 527,77 232,170 414,85 564,53 335,194 572,92 480,141 262,223 417,105 509,106 306,181 509,90 566,25 196,177 269,219 590,4 267,193 257,180 139,274 473,141 382,79 333,126 558,145 231,181 591,16 589,50 401,130 195,171 538,110 454,108 471,14 344,189 563,4 237,196 334,110 459,39 271,200 448,17 177,191 332,122 476,16 556,23 415,105 545,57 256,188 541,11 517,60 500,62 229,139 383,207 502,49 519,72 75,305 547,13 208,261 445,64 287,142 459,122 504,33 347,88 450,68 389,84 329,134 502,99 477,40 472,102 491,83 551,22 227,170 311,140 562,27 393,134 142,264 370,139 484,112 463,54 280,146 288,244 507,80 580,4 260,214 229,190 442,127 392,141 233,158 516,20 558,4 430,11 327,157 304,172 233,227 566,87 560,4 259,200 482,117 539,88 336,196 320,162 286,187 411,70 482,78 134,214 518,41 583,4 580,31 519,40 483,46 403,84 505,89 593,99 561,81 297,175 518,118 229,172 280,180 526,104 512,113 507,116 271,184 492,4 552,26 317,167 541,40 425,89 508,124 417,57 296,108 542,145 455,47 576,4 510,152 487,18 357,163 211,234 473,133 472,138 575,40 260,163 579,97 452,28 581,42 307,141 430,155 581,79 478,91 222,183 280,164 215,219 580,4 561,35 552,61 557,53 524,94 465,114 542,51 263,170 425,90 523,16 577,4 438,76 493,39 271,217 501,51 503,15 332,151 499,160 392,117 319,146 360,178 316,121 311,162 397,99 334,148 371,140 561,47 427,16 152,264 311,168 560,59 505,48 461,62 284,177 353,156 440,117 333,128 462,90 498,121 372,121 520,129 505,95 467,88 497,103 431,72 259,162 400,83 576,66 565,39 501,4 331,137 413,161 589,59 141,268 507,40 528,121 402,72 380,71 216,225 502,53 260,193 594,4 569,4 376,162 583,10 249,224 409,182 325,137 391,149 198,151 379,121 530,4 541,92 352,130 524,108 571,4 325,192 302,148 303,183 210,167 561,50 464,68 487,111 420,81 514,114 236,174 519,29 501,100 434,146 568,4 582,4 514,31 314,212 416,106 535,108 301,172 549,56 365,100 499,14 351,160 462,137 493,56 525,61 532,129 573,59 528,53 367,92 576,63 415,156 441,124 557,4 535,4 411,65 578,48 467,156 538,13 418,105 589,4 555,36 443,147 223,173 279,186 215,195 104,237 403,110 488,140 337,137 486,107 463,80 525,4 548,49 575,13 552,53 453,69 500,30 446,139 525,47 378,113 560,4 422,98 514,122 549,115 370,138 355,186 400,172 337,142 497,124 280,192 509,129 360,143 264,159 252,238 260,155 520,46 368,162 432,134 516,57 508,38 578,4 395,46 593,92 248,189 405,172 450,4 425,131 424,4 487,144 494,17 496,74 302,152 539,91 306,159 517,43 593,4 344,201 525,69 491,94 264,215 560,126 533,26 431,75 539,101 398,89 510,93 332,139 540,63 548,53 371,156 299,200 220,165 579,80 478,133 590,48 449,69 345,79 400,197 469,156 515,4 469,140 334,137 389,133 537,4 502,127 332,137 220,189 244,161 554,20 303,142 536,13 421,145 579,70 459,56 139,270 248,201 479,67 475,127 553,4 592,101 448,60 484,100 582,70 284,197 516,4 305,159 452,131 507,80 594,13 581,104 327,194 459,124 222,222 322,163 214,220 536,96 243,179 266,149 528,4 341,184 564,102 487,113 491,133 433,106 525,93 523,4 469,104 216,177 505,4 530,88 465,127 586,95 223,230 414,95 382,138 430,88 177,246 375,143 518,150 369,130 428,133 581,63 536,88 346,167 273,131 536,152 549,4 507,4 233,214 492,169 579,59 234,203 550,124 355,150 522,65 230,152 266,173 453,149 493,31 564,4 470,106 457,154 558,60 456,15 593,69 477,13 447,136 467,69 331,117 357,123 483,4 270,216 301,151 461,53 322,112 160,207 575,30 403,103 416,185 539,112 500,103 300,140 373,116 421,146 519,75 530,4 503,132 421,130 542,24 371,165 497,46 272,140 401,151 223,205 199,237 186,242 446,103 283,160 488,12 285,145 474,12 309,108 359,143 573,59 260,207 190,240 449,211 526,4 457,57 240,191 549,104 538,19 584,67 433,88 365,104 497,94 558,63 301,209 391,163 518,36 527,109 535,4 480,101 515,24 354,120 407,111 536,91 560,17 575,50 568,96 387,104 542,38 276,156 379,120 441,46 493,25 413,59 586,99 422,55 225,154 581,7 471,83 531,4 352,72 594,150 247,183 285,206 274,193 357,117 500,53 492,122 445,125 543,81 199,241 403,152 420,103 289,151 547,4 524,4 250,206 252,148 414,54 584,62 248,180 594,99 284,166 446,4 284,205 413,56 443,35 486,188 576,36 499,72 386,170 118,233 449,4 519,78 582,10 284,151 91,291 107,237 370,150 383,117 530,100 333,165 285,153 518,4 249,136 548,8 486,63 571,19 512,92 531,96 393,76 210,244 456,125 496,159 445,94 506,126 537,65 506,11 540,118 417,92 337,165 419,158 524,4 505,149 591,18 546,54 526,37 265,206 318,136 386,20 440,132 592,4 586,4 462,67 334,85 212,237 592,4 442,93 564,25 467,58 535,4 580,139 445,7 249,187 331,146 139,270 498,40 345,165 194,238 408,94 300,175 533,4 579,4 95,288 73,282 352,135 215,237 540,104 328,183 245,200 280,145 300,172 413,135 420,113 478,70 282,195 480,14 581,29 355,166 97,289 382,104 350,150 216,220 464,145 184,190 508,47 321,173 524,65 469,43 444,100 153,205 588,4 583,28 355,125 385,166 438,151 282,211 412,93 583,28 511,21 423,60 497,116 426,124 580,78 75,306 514,132 424,154 576,4 275,195 511,56 500,59 588,4 515,85 498,73 356,129 288,185 120,277 536,4 266,153 466,170 119,229 386,123 532,91 429,126 488,61 390,89 537,59 272,116 463,147 398,133 431,169 509,67 531,61 541,26 265,218 279,163 270,200 475,112 530,12 594,4 203,241 143,205 507,81 592,4 246,178 333,150 575,28 361,140 581,100 582,4 443,61 509,26 224,189 567,93 84,265 592,14 560,4 350,142 118,278 575,64 554,81 504,35 569,108 419,78 216,177 483,115 517,22 256,200 166,196 438,147 549,32 527,125 421,86 248,183 366,151 491,74 417,85 453,55 348,130 557,104 463,93 218,231 556,34 421,47 534,4 479,33 487,73 564,4 524,4 535,50 309,166 219,233 510,82 588,82 570,4 528,22 515,104 363,102 552,48 505,59 490,91 562,101 518,137 262,181 508,96 109,232 481,67 385,122 454,89 420,136 580,4 563,46 480,20 196,179 563,119 446,50 533,102 584,80 418,115 247,183 475,115 344,184 392,112 550,34 418,155 331,181 525,116 403,165 414,148 469,125 390,124 533,70 147,212 575,4 262,124 289,171 435,66 567,94 553,21 423,147 145,216 307,136 482,142 519,60 369,156 541,4 531,109 515,93 226,195 532,18 279,135 274,164 348,146 409,124 459,112 196,239 181,190 472,39 385,81 562,22 427,28 484,143 414,106 564,56 271,183 234,204 215,208 336,135 318,173 486,16 537,6 441,41 532,40 266,80 477,44 513,118 351,174 223,168 565,18 232,199 328,172 490,123 591,26 284,154 570,18 236,197 305,177 522,4 525,108 384,112 293,133 321,161 582,84 475,214 545,144 503,109 528,81 111,281 440,81 400,137 411,76 540,61 499,91 373,108 207,249 288,204 577,60 233,132 551,34 312,127 590,54 577,110 468,4 537,92 429,113 317,173 245,206 543,4 523,15 229,184 560,116 395,95 513,143 445,41 272,170 289,131 263,205 93,291 259,158 246,217 239,173 470,152 581,17 257,161 590,4 90,293 367,164 542,4 552,4 576,8 443,144 123,273 235,163 124,228 167,201 516,29 430,92 510,117 550,68 458,99 381,195 224,186 443,95 398,100 236,202 488,47 346,141 470,90 239,226 586,55 526,103 163,186 470,46 583,4 557,52 553,12 568,75 530,80 431,106 225,165 559,88 279,172 582,4 263,203 280,177 470,56 364,104 518,89 487,105 534,27 525,63 564,76 263,189 469,125 453,90 481,38 219,188 566,34 512,54 413,52 341,140 451,138 560,86 434,153 294,197 418,160 245,217 594,13 503,90 503,129 590,74 547,120 502,78 230,241 473,141 461,161 175,197 218,162 399,136 317,152 519,118 453,91 476,69 579,4 487,57 306,207 552,4 578,119 562,4 430,56 499,52 231,157 324,174 452,150 586,4 197,179 566,25 557,68 592,100 471,57 539,80 353,130 511,35 435,81 308,118 539,108 290,205 383,60 448,98 507,61 549,103 325,184 413,98 475,76 298,157 409,31 586,29 103,241 277,201 452,105 292,205 526,124 554,6 393,100 230,176 317,171 321,181 579,107 489,23 480,111 320,203 241,164 344,177 340,63 546,23 546,105 560,4 515,115 479,36 594,38 225,193 505,57 457,33 438,118 257,153 333,141 403,106 360,138 557,109 533,101 147,268 353,186 430,69 512,89 458,152 352,149 360,156 324,149 387,150 411,167 552,132 381,142 314,161 459,85 484,136 552,26 521,37 442,76 282,151 550,34 224,180 577,58 222,189 440,180 593,4 308,166 343,96 516,95 312,190 437,4 524,37 395,176 222,168 464,87 573,30 585,4 579,63 310,165 461,102 292,160 258,132 473,114 358,122 428,166 227,228 321,189 440,141 305,135 422,126 306,113 394,153 444,113 381,143 239,177 495,148 591,9 243,225 554,82 541,4 502,113 223,166 365,175 585,46 435,115 242,221 330,135 151,263 561,40 436,146 287,177 555,38 563,132 481,94 351,154 148,260 348,89 239,150 521,126 331,173 576,56 504,107 443,141 130,274 554,107 404,148 536,95 284,143 472,127 269,176 556,4 457,155 85,262 488,15 342,148 556,40 499,67 216,198 237,220 546,4 569,4 466,4 407,162 509,124 462,79 443,73 582,4 538,114 591,59 144,216 329,112 414,88 438,66 470,133 346,190 456,69 493,123 321,164 109,283 525,4 438,53 449,145 543,79 107,281 581,53 555,31 577,12 532,60 378,113 245,170 544,4 549,89 341,123 538,4 316,185 320,190 403,58 325,159 443,60 338,189 342,175 411,40 446,79 498,60 540,24 514,111 518,137 508,39 408,120 505,33 563,28 410,124 519,29 241,171 526,4 224,154 505,72 227,213 565,86 466,68 512,59 146,213 538,98 483,86 286,211 428,97 287,194 355,190 496,195 439,148 499,131 585,7 425,148 272,175 534,63 540,4 537,5 540,4 336,193 448,9 463,144 423,106 588,22 451,67 353,134 478,148 465,129 434,102 420,106 572,63 541,94 457,154 530,113 565,4 535,4 513,48 189,179 438,135 561,25 575,8 461,88 533,20 489,123 252,180 288,165 550,98 490,172 453,171 535,98 398,142 521,77 111,279 280,142 324,191 363,95 489,134 325,192 541,109 401,125 244,160 338,208 356,194 443,55 504,166 578,8 593,4 528,90 347,165 275,169 584,4 582,46 533,61 545,99 532,159 504,92 425,164 484,97 215,235 434,78 558,9 577,57 485,74 224,162 237,225 425,83 564,76 496,20 496,65 102,290 510,91 439,89 348,152 407,98 474,115 329,171 440,139 283,198 406,59 575,4 589,40 560,57 512,4 237,228 506,124 520,4 557,4 592,70 172,252 567,30 118,230 492,145 401,76 499,26 463,72 538,4 370,145 441,53 332,143 499,48 396,49 359,164 520,34 499,112 268,139 480,24 550,14 253,175 401,148 273,122 573,66 462,32 415,117 268,190 305,108 542,84 434,116 219,188 321,147 288,172 450,41 159,202 494,108 563,4 384,102 506,51 474,62 309,143 582,168 223,211 271,206 535,100 430,116 129,222 474,137 563,29 571,85 566,17 548,4 462,131 229,155 530,79 532,31 551,39 504,4 521,4 487,69 390,181 391,145 557,4 458,146 543,81 474,116 540,66 271,152 524,113 508,4 222,180 317,155 570,38 518,35 592,4 432,133 515,77 322,118 587,52 227,173 257,172 568,55 237,197 394,121 453,112 563,98 517,84 430,118 404,69 467,139 593,5 566,65 440,4 568,4 549,92 464,80 547,57 578,33 571,4 497,59 457,116 232,177 568,20 353,144 484,130 484,77 225,224 453,71 471,118 575,4 560,65 238,226 490,164 594,97 332,207 503,95 433,93 480,110 460,107 549,45 422,106 557,74 483,98 290,135 400,113 436,105 322,74 590,62 450,50 374,169 449,78 412,118 99,244 560,67 545,4 504,72 573,98 527,118 483,96 214,211 529,121 314,152 147,211 576,4 333,175 561,89 535,95 438,141 440,83 532,14 561,72 249,211 517,54 511,53 469,130 593,81 240,215 274,168 404,107 223,235 503,33 426,175 485,86 569,50 289,147 503,108 197,164 585,93 555,43 216,173 538,97 378,157 523,4 469,143 494,93 518,104 272,160 558,44 494,60 261,189 455,65 497,91 544,4 422,108 332,152 558,50 476,98 560,9 100,287 517,123 408,142 551,111 477,138 121,226 585,4 522,59 364,118 552,43 313,251 507,46 239,197 272,173 470,62 566,150 470,88 481,79 287,215 124,274 256,190 425,110 346,198 460,109 455,117 548,22 254,162 574,29 488,75 362,187 573,115 572,50 475,4 274,165 465,136 439,142 475,104 490,113 464,106 513,51 553,4 520,89 442,120 471,66 363,164 398,146 472,102 570,4 539,111 531,67 383,119 458,61 177,191 292,181 455,85 287,155 364,96 373,149 528,89 412,152 557,20 305,194 482,115 476,85 532,96 466,116 548,21 513,78 437,34 302,129 429,34 237,229 290,171 559,80 438,147 517,95 335,150 467,122 448,48 537,5 545,4 590,43 235,189 555,34 545,4 401,67 89,252 495,136 521,68 448,55 248,208 486,4 463,65 410,91 578,10 407,144 307,143 549,19 235,211 458,34 469,121 66,308 326,189 543,118 577,4 486,53 251,166 281,175 522,96 345,196 310,117 552,91 405,137 522,79 432,176 388,162 442,74 422,155 175,195 520,67 482,25 136,266 575,4 581,56 577,22 425,96 140,208 430,158 485,23 490,97 223,216 510,34 286,134 367,176 293,157 555,24 531,4 594,4 585,129 565,71 236,178 531,113 257,160 574,4 527,37 247,172 402,115 368,147 235,227 385,148 451,111 265,208 399,167 156,269 465,118 78,276 567,7 254,182 295,139 311,175 122,227 559,4 293,146 184,185 347,183 231,187 269,228 433,127 298,136 269,197 483,54 522,14 450,4 584,4 138,267 549,4 331,139 484,82 266,163 482,69 517,50 324,201 230,242 588,41 393,109 247,214 354,153 531,4 529,53 369,145 475,110 480,101 459,29 67,312 568,4 489,119 404,113 527,9 307,167 554,13 529,19 325,123 568,33 273,232 514,4 138,265 390,131 353,138 483,65 578,14 556,41 386,170 501,58 227,214 552,4 505,4 514,27 464,129 590,64 483,122 465,120 577,43 583,9 451,81 481,74 406,151 565,65 433,130 283,197 571,133 572,18 447,84 239,200 192,241 518,32 565,116 112,281 474,159 322,215 562,4 465,86 453,101 408,74 284,210 577,4 304,172 517,4 525,111 280,120 288,120 557,52 161,206 276,175 576,4 250,178 514,75 532,103 396,112 252,135 509,67 556,33 561,4 227,183 136,269 460,157 511,40 590,40 279,192 464,4 428,117 537,23 580,4 303,211 591,11 511,68 332,184 524,64 436,89 274,198 475,103 129,214 473,63 569,4 583,4 505,111 448,129 554,46 250,227 404,75 523,18 214,217 579,4 333,189 395,132 556,82 68,307 262,167 580,4 299,167 289,161 570,4 594,4 351,157 525,125 547,44 492,133 85,297 570,4 479,62 322,194 593,4 501,56 440,101 457,124 402,129 522,118 451,97 517,134 511,37 268,198 574,70 522,24 258,173 499,4 541,52 238,170 552,15 230,235 349,123 380,52 520,101 280,166 400,156 426,4 487,126 224,189 378,154 396,170 302,171 518,156 235,165 549,68 567,75 431,80 287,179 583,4 285,163 332,178 466,111 302,155 300,163 492,53 96,288 522,103 329,156 430,110 477,32 277,159 245,204 563,8 388,103 576,53 505,47 247,226 108,233 304,207 575,29 579,4 487,91 217,193 367,120 342,137 510,42 324,130 259,184 561,4 494,4 498,33 593,23 262,146 219,219 438,120 513,113 501,32 257,195 271,163 408,135 312,155 523,103 486,4 492,138 460,62 468,70 537,94 490,78 320,194 276,207 245,205 415,110 415,62 578,4 445,48 311,184 393,162 463,141 494,73 491,130 439,84 435,157 563,4 430,103 566,107 525,123 511,4 539,26 457,128 494,28 466,63 369,142 361,175 292,210 562,27 344,179 469,4 518,127 460,4 586,4 522,101 583,61 433,57 290,167 425,116 492,37 540,4 383,143 118,275 261,130 425,140 585,4 400,172 375,103 303,199 565,102 448,39 231,170 174,199 548,63 575,4 458,102 330,112 500,26 471,33 265,181 488,97 280,219 562,8 552,27 73,280 467,139 571,14 594,99 418,155 472,4 577,112 561,30 215,197 510,77 559,72 406,172 482,141 556,6 574,63 174,252 529,50 263,227 585,66 519,68 477,136 459,50 283,183 435,133 303,180 467,89 427,118 465,103 569,78 282,214 299,107 225,233 429,85 214,187 472,19 437,118 264,216 314,140 295,138 75,270 240,223 287,162 534,118 304,195 525,69 316,173 286,209 228,199 468,85 372,163 465,34 535,71 563,6 482,81 541,4 555,95 568,100 90,293 555,73 520,24 495,36 567,135 278,212 489,81 546,4 544,98 452,103 482,57 557,177 196,179 437,160 465,25 583,4 218,190 490,99 420,141 488,71 105,283 490,39 520,125 266,151 502,107 215,207 565,8 403,117 470,166 434,63 275,183 496,62 147,265 518,24 581,60 562,19 498,43 533,4 439,145 548,12 539,65 526,22 465,87 217,138 454,126 513,121 398,96 421,92 520,4 66,297 578,4 540,96 357,167 445,98 496,80 311,187 447,105 593,4 396,111 356,153 144,267 487,64 253,150 561,100 592,19 491,15 577,63 543,4 405,112 590,55 352,181 482,10 432,64 518,5 546,95 451,4 151,259 502,30 589,24 462,117 363,106 573,4 286,200 546,56 575,104 535,4 406,152 219,168 446,35 455,130 431,92 504,73 118,232 251,204 313,139 306,206 397,106 471,134 558,4 458,168 437,111 352,165 408,108 518,4 420,91 272,219 283,181 452,83 304,227 581,12 81,266 501,95 584,52 214,216 594,42 522,4 525,4 303,213 441,86 584,32 262,131 296,181 315,137 533,7 407,173 408,145 463,100 312,129 238,194 360,166 462,92 485,148 231,176 516,4 351,159 559,64 549,12 575,50 481,89 466,62 491,35 576,70 246,185 333,178 233,163 440,4 548,15 541,99 234,188 380,136 371,99 396,88 491,53 387,138 452,49 428,47 214,183 318,85 561,65 519,4 223,227 547,57 504,5 408,161 283,146 490,11 496,134 574,32 395,153 554,109 592,46 403,131 504,124 455,85 243,145 105,239 505,4 560,4 188,185 568,71 571,4 512,4 400,110 547,39 338,137 422,61 468,103 215,221 298,202 349,151 516,52 449,163 391,204 435,117 334,162 459,157 505,118 139,220 554,46 376,77 435,111 307,93 586,89 570,68 86,260 494,4 579,20 570,43 300,119 494,84 555,47 583,4 485,115 587,115 375,127 444,137 470,138 290,160 418,97 428,55 285,203 509,70 145,264 443,164 478,4 335,114 438,112 148,264 265,213 250,202 456,46 400,136 291,196 456,116 69,310 285,141 493,25 474,81 399,67 556,27 392,123 472,53 440,86 565,4 475,95 305,190 312,157 555,110 396,185 302,201 577,77 511,120 554,66 485,4 475,139 222,190 503,59 443,142 405,115 332,147 485,126 314,209 218,192 553,111 218,218 515,53 114,279 551,47 546,4 397,123 575,40 542,18 234,182 405,166 336,152 518,88 593,4 80,299 550,15 449,60 464,166 432,117 525,20 323,188 561,88 447,69 270,185 540,95 498,141 347,135 400,121 513,114 350,196 549,38 345,151 399,132 550,4 541,118 325,139 442,103 520,49 487,74 175,194 442,86 463,105 297,151 66,309 535,102 355,130 330,114 223,226 594,50 584,4 426,121 527,72 433,75 303,146 235,178 501,4 567,135 462,68 577,4 493,61 420,151 215,133 455,59 231,160 294,210 375,118 524,99 511,111 216,237 494,38 218,168 562,13 240,221 547,27 452,113 334,136 554,122 509,124 539,42 502,41 439,145 588,4 553,75 519,109 550,20 229,222 444,139 350,167 398,100 452,134 486,117 380,146 412,139 504,79 553,36 470,110 510,103 374,151 480,80 563,105 559,98 334,175 409,131 443,133 415,139 520,4 289,123 341,203 559,32 589,103 458,68 480,158 401,113 454,98 305,129 402,60 282,154 523,135 379,160 445,105 367,137 238,215 472,84 560,103 513,13 469,4 322,109 456,66 549,57 536,81 585,106 339,184 568,4 438,58 397,94 540,4 400,126 542,96 368,136 341,117 468,93 593,4 541,8 377,102 477,102 594,126 240,198 266,142 367,156 448,60 500,95 350,186 387,107 250,195 500,121 566,4 457,54 393,163 521,78 106,284 564,4 395,112 502,4 144,270 224,196 457,42 84,264 412,204 368,123 271,159 438,106 585,4 162,207 507,4 309,198 161,205 547,33 450,117 591,65 489,58 574,97 258,156 446,24 508,88 350,124 353,136 494,4 493,32 490,112 373,129 504,35 258,172 555,118 587,24 593,78 426,141 300,192 536,81 288,189 508,9 437,153 287,153 422,136 215,200 567,4 131,281 296,140 582,4 401,121 454,129 499,114 402,178 523,35 438,100 470,140 99,284 285,185 345,165 474,68 582,112 118,228 566,64 531,62 454,159 547,88 364,103 536,11 288,198 393,112 455,106 524,53 263,212 566,18 361,115 257,169 587,32 427,106 585,4 445,67 373,123 404,72 495,4 169,197 115,220 259,207 499,98 592,102 440,114 508,81 539,121 288,196 164,257 561,96 488,128 535,65 101,287 542,76 431,93 362,190 564,66 421,156 571,42 414,79 585,4 254,216 441,45 358,180 173,251 368,114 578,4 288,155 188,245 383,155 557,46 508,125 376,54 356,127 65,296 487,144 215,221 357,176 526,37 446,140 477,139 488,133 529,68 241,209 231,175 252,190 502,102 469,113 152,260 557,7 439,106 496,54 581,132 172,142 573,18 239,154 313,195 162,207 251,185 329,139 574,24 536,9 555,67 247,151 458,109 553,83 227,220 66,297 142,214 217,198 263,198 289,146 407,159 380,148 477,77 569,4 514,4 508,131 485,79 360,117 348,138 420,127 419,162 72,309 444,46 531,110 570,4 556,74 251,181 392,98 415,100 562,5 230,238 311,170 522,4 525,66 482,85 248,172 505,77 240,165 500,23 499,128 531,95 536,104 310,194 435,70 450,120 560,4 310,134 374,161 379,63 518,131 224,191 581,119 551,4 366,134 562,39 248,170 590,29 265,161 506,18 346,190 435,103 581,33 203,174 170,198 228,205 569,67 593,101 261,161 272,174 468,94 241,225 301,150 541,12 459,38 427,158 220,196 541,74 410,127 285,163 138,269 289,207 382,137 518,106 584,100 474,146 361,201 563,24 487,97 232,186 513,108 313,130 517,26 486,121 386,137 216,217 531,81 368,169 275,123 574,4 567,4 495,113 423,139 346,128 568,21 300,175 480,105 400,177 515,76 541,60 389,143 292,192 287,162 528,6 260,180 332,194 530,4 578,137 538,4 229,177 479,94 580,4 569,49 410,157 591,133 560,50 270,151 265,190 547,90 215,220 540,25 295,149 494,127 482,94 289,214 280,150 592,104 421,58 412,161 295,188 555,79 179,250 315,221 532,98 503,25 241,144 542,4 567,102 344,165 565,4 519,60 67,308 241,166 485,143 390,107 186,181 146,264 162,261 541,72 364,178 353,108 462,4 548,99 486,73 487,28 486,43 560,4 421,91 91,256 522,38 478,47 570,4 481,23 366,123 486,27 502,66 510,13 494,45 227,192 224,193 421,153 568,4 312,164 292,199 338,176 552,111 246,217 546,57 404,142 430,131 489,130 517,35 534,105 417,140 493,51 213,167 294,215 524,112 401,118 525,88 306,139 520,89 467,131 525,20 247,188 529,77 431,76 408,115 238,181 337,113 244,183 279,142 339,166 364,174 486,50 325,147 581,4 286,196 234,229 536,28 428,146 86,294 221,168 201,169 386,113 398,109 520,50 309,131 491,72 583,39 495,88 222,165 514,58 566,4 593,49 456,65 560,10 577,94 558,87 474,4 558,119 462,56 487,45 396,108 534,25 491,110 341,144 567,4 359,200 431,42 403,99 528,79 439,97 449,45 420,154 225,158 172,250 397,177 449,121 415,89 519,4 389,119 189,245 570,4 394,165 527,84 226,223 578,4 271,155 562,99 572,4 503,4 500,44 259,225 581,110 583,150 373,63 465,105 266,210 238,229 511,5 269,198 573,4 366,123 360,174 446,82 592,77 478,106 297,188 474,78 482,62 272,141 168,250 299,185 414,39 320,191 333,207 221,175 227,176 508,59 475,80 391,158 225,242 446,139 492,130 473,4 361,171 357,182 579,128 532,163 217,205 509,63 399,137 276,159 349,122 435,139 353,121 249,173 504,8 412,183 585,30 471,4 447,109 594,4 424,67 572,4 265,212 497,67 409,94 557,72 368,168 192,240 261,217 481,85 239,168 257,200 356,173 433,116 312,116 429,97 593,28 569,4 491,4 342,86 441,117 484,4 296,222 247,154 255,140 380,117 259,162 230,193 375,160 586,23 533,17 292,141 421,94 515,51 245,155 364,150 498,4 332,137 101,285 555,4 145,266 537,65 557,88 590,69 558,4 457,122 292,220 535,104 497,68 483,36 492,109 572,5 538,95 358,163 98,246 117,278 237,164 451,118 420,185 183,244 486,102 523,43 256,218 288,135 562,64 586,4 229,194 216,222 198,173 128,218 551,47 489,4 545,99 414,101 581,81 495,79 225,214 232,204 312,199 449,90 330,144 368,175 415,143 486,83 539,41 562,101 521,32 208,170 573,14 592,33 287,144 570,58 455,136 92,254 499,121 310,184 534,35 265,176 233,154 501,142 252,152 190,241 408,105 390,142 328,144 493,4 593,40 572,4 540,34 563,4 298,235 442,111 533,58 567,118 139,219 291,181 301,174 530,18 246,176 321,168 487,85 290,176 587,65 318,165 245,195 171,249 288,211 590,4 469,82 400,133 569,4 502,36 373,158 355,182 586,4 443,175 586,80 495,39 490,109 346,158 505,85 529,4 552,28 355,102 533,4 585,66 520,52 560,23 284,215 178,245 556,83 257,217 301,164 524,103 250,156 518,4 109,236 565,70 565,4 346,149 393,182 220,227 513,61 284,204 216,211 563,4 361,165 333,163 323,129 93,291 165,257 484,28 546,73 459,136 316,182 471,54 555,50 514,92 322,147 109,238 400,122 214,221 424,85 519,35 461,146 557,55 315,153 111,282 231,202 453,87 245,156 98,288 471,78 345,175 466,44 135,218 502,139 458,71 324,97 500,138 366,162 502,124 444,47 523,90 428,152 197,244 463,135 571,18 387,127 138,218 418,123 335,130 438,166 522,58 266,225 156,256 509,41 355,118 495,109 250,175 551,64 388,134 523,56 524,4 593,4 547,100 416,134 466,92 509,4 339,133 323,148 454,4 360,125 378,148 508,98 381,156 134,212 574,4 506,59 455,76 563,106 371,113 309,176 521,57 503,99 507,69 518,24 391,97 592,67 482,63 417,111 558,5 233,182 572,24 84,294 540,42 448,74 574,4 313,183 583,11 545,63 557,126 187,181 114,279 240,205 545,110 502,136 502,125 546,4 480,111 581,62 120,275 421,136 388,121 523,85 410,147 388,162 475,51 441,120 249,210 578,4 288,126 569,4 142,217 427,48 564,4 224,197 482,61 562,75 389,125 425,4 511,40 322,133 411,125 502,68 552,102 493,121 142,207 498,125 416,140 456,96 271,188 532,72 558,47 257,220 335,189 456,119 403,100 261,134 473,138 229,168 418,120 369,94 231,192 567,4 543,5 465,104 465,87 472,105 337,171 423,97 232,208 456,80 571,12 497,87 573,52 515,68 516,23 238,124 361,125 393,170 520,105 529,22 571,58 567,31 441,124 360,126 424,90 308,156 561,94 76,305 573,4 548,4 463,80 507,128 480,72 268,146 575,79 74,282 510,97 282,213 275,161 516,34 449,49 542,107 580,72 493,41 568,28 213,165 382,148 592,89 526,5 285,164 164,258 555,67 505,118 239,155 523,32 308,153 258,153 447,133 493,86 514,22 243,174 446,140 226,165 500,52 566,26 566,53 232,199 515,126 550,86 530,51 291,211 338,134 103,288 558,21 549,55 280,216 591,4 571,70 443,117 432,159 448,120 421,133 546,45 577,79 332,198 296,198 557,24 539,4 310,155 586,4 550,55 264,146 439,149 583,4 434,112 550,4 350,125 227,170 440,37 512,44 298,152 502,10 561,128 131,224 552,55 447,25 225,191 585,4 498,65 494,53 594,90 290,126 252,225 476,120 485,4 398,143 494,61 227,172 232,171 508,76 467,122 137,219 334,129 361,120 582,58 305,185 424,139 446,147 567,88 585,22 509,30 225,183 487,108 466,72 322,141 459,81 262,186 576,44 261,150 467,101 374,166 510,105 546,23 147,212 460,51 350,188 487,81 486,70 550,4 223,178 587,4 425,147 261,199 552,74 473,32 593,82 373,157 396,133 464,17 505,58 355,159 258,218 587,4 319,194 562,36 497,46 417,118 398,80 497,4 372,139 465,112 551,7 474,19 564,47 436,148 550,11 422,4 526,4 398,161 253,132 423,63 524,122 292,198 514,39 395,164 536,85 474,83 167,254 450,103 533,107 386,153 336,147 558,94 234,202 523,34 549,91 512,121 361,186 215,185 442,80 307,197 439,97 231,176 594,36 528,103 421,146 438,75 469,74 522,107 398,134 499,21 538,35 527,118 216,219 328,108 523,37 475,4 348,163 309,152 551,33 439,129 454,48 510,127 576,10 479,89 354,154 530,105 456,115 480,72 389,143 322,98 587,82 479,99 589,56 530,70 471,38 506,88 493,84 577,4 435,94 226,167 258,187 522,17 287,163 383,192 448,137 465,135 514,66 318,150 68,307 291,169 248,173 568,34 493,109 218,194 427,161 523,93 521,94 554,79 581,97 433,89 293,201 395,121 591,102 580,95 351,176 301,168 583,4 329,145 546,25 591,109 379,141 529,78 452,52 587,22 456,74 288,184 221,190 446,87 413,143 552,4 476,30 465,84 293,142 233,182 210,239 317,171 371,173 556,4 521,114 434,144 281,210 585,4 381,162 365,155 565,111 391,163 543,71 369,138 284,165 479,148 519,79 231,196 501,24 592,91 63,302 586,110 366,102 256,156 221,224 307,153 573,89 563,4 580,69 515,80 557,29 455,31 305,181 278,201 456,153 512,60 318,150 344,174 435,78 382,153 379,149 337,166 415,78 230,136 490,73 106,240 516,7 419,90 285,162 469,148 338,158 332,157 554,58 307,150 457,104 449,133 408,123 296,209 557,17 319,157 454,54 580,4 582,4 460,175 448,132 444,100 573,4 346,152 126,227 484,33 299,137 408,110 297,171 569,48 563,101 407,113 424,116 347,111 228,228 484,78 489,33 593,11 223,204 558,43 227,221 350,190 514,134 545,62 542,54 551,157 415,213 437,49 413,172 426,135 555,30 476,54 593,126 475,134 214,185 554,5 467,130 386,181 539,47 523,100 494,64 299,179 200,172 498,4 548,4 563,44 560,53 570,42 204,170 207,234 500,37 574,70 501,96 298,138 217,223 562,66 512,37 341,165 379,164 339,155 238,217 449,138 584,12 258,175 498,22 581,49 529,112 568,55 501,14 536,94 376,105 556,43 570,43 539,13 509,126 523,108 463,125 397,88 177,195 260,196 474,114 560,4 532,27 215,229 537,4 422,150 493,131 592,11 232,203 533,4 499,82 95,290 427,123 498,94 135,276 487,81 579,31 310,130 454,57 432,77 430,70 294,164 421,148 551,73 553,81 561,107 403,69 549,89 504,67 270,214 369,139 338,187 523,125 554,43 522,82 576,52 312,184 551,93 591,52 310,135 399,127 417,96 453,137 252,191 530,140 222,165 480,177 499,54 590,4 482,104 474,149 495,28 533,44 567,4 381,158 267,221 116,224 583,92 565,99 414,99 308,166 577,89 336,205 214,172 396,169 332,133 221,162 578,92 449,50 546,17 593,4 550,4 263,157 412,92 540,52 594,35 214,201 389,165 535,123 556,114 545,73 80,299 230,178 130,273 420,92 593,4 295,178 347,139 492,42 265,207 487,65 380,130 522,134 552,42 554,41 203,172 381,164 522,48 235,157 241,228 518,113 486,119 377,151 383,130 470,4 246,196 590,79 412,163 398,160 583,56 407,107 259,183 324,141 251,214 486,119 496,29 531,110 501,102 550,84 526,69 427,159 548,22 557,39 578,87 429,96 350,175 589,7 79,299 471,20 265,132 568,50 409,172 564,93 433,114 512,42 435,129 584,87 274,143 474,90 418,106 476,126 278,150 577,4 513,67 393,100 304,196 333,159 433,86 578,4 592,20 575,4 458,162 235,207 217,165 419,138 579,14 530,4 476,99 535,4 481,48 538,82 582,4 485,125 443,79 467,100 495,26 429,71 281,190 568,16 487,144 410,38 370,125 350,146 420,115 209,160 410,133 109,281 406,83 143,263 528,19 485,5 446,87 430,50 509,76 386,114 293,217 507,55 274,145 479,128 248,203 458,74 249,193 459,98 228,210 572,27 544,4 465,96 530,60 522,109 575,4 481,128 421,81 505,75 240,156 536,8 511,48 452,142 418,135 387,129 556,68 341,117 421,144 486,126 318,151 441,144 312,162 553,91 379,122 579,5 405,105 462,37 462,70 372,141 220,164 220,170 441,157 592,73 232,191 457,124 478,117 353,110 410,70 541,97 444,98 539,33 388,143 242,181 400,151 446,128 518,87 539,51 68,311 328,140 480,148 521,55 444,95 343,129 519,4 589,62 270,173 515,92 421,125 486,117 431,118 499,42 586,67 566,4 409,160 259,168 546,63 315,205 468,115 557,78 525,4 300,140 304,112 523,28 465,96 570,15 558,85 327,159 237,154 215,195 386,142 463,97 482,101 447,117 244,182 398,165 432,95 383,150 214,198 100,286 71,308 250,217 480,52 367,128 226,186 565,10 589,4 473,49 534,173 491,56 135,220 390,115 584,4 372,118 578,4 109,234 575,87 534,4 587,4 485,89 314,199 287,160 483,168 481,38 260,171 578,4 575,116 440,112 279,215 365,103 274,137 231,212 587,4 276,191 484,65 409,125 524,128 422,147 527,20 568,106 362,122 477,4 514,62 263,213 528,79 276,177 537,10 580,4 401,159 396,146 370,151 479,213 572,115 530,48 411,108 414,123 586,52 519,108 437,134 244,151 516,52 575,59 425,131 322,170 456,87 116,234 484,120 544,126 238,186 321,219 533,4 492,130 408,97 481,110 531,86 439,116 254,184 498,125 327,165 304,166 186,244 403,108 337,126 589,28 437,213 460,100 241,228 457,134 326,140 465,106 367,151 529,39 288,177 277,176 403,118 324,188 459,80 517,37 437,8 561,29 520,9 302,205 410,148 516,32 423,116 504,131 450,87 203,171 482,40 324,76 360,162 379,108 329,167 582,4 302,157 538,134 227,186 565,159 409,147 578,4 517,57 463,45 282,186 442,91 499,145 568,82 299,171 259,148 582,80 560,6 525,137 380,154 484,74 472,58 269,162 479,117 335,116 572,77 346,136 283,214 427,70 448,54 230,186 588,114 377,144 547,4 553,4 196,245 227,206 499,86 133,269 583,32 537,87 592,93 397,164 484,72 537,53 517,111 554,33 234,158 424,47 401,213 465,4 566,42 262,179 584,4 282,196 576,4 319,164 410,171 487,36 256,130 235,166 501,36 361,120 393,192 143,218 478,19 440,104 222,174 317,96 341,171 499,47 300,200 368,153 229,231 503,95 411,43 477,119 509,86 442,148 289,196 240,171 529,107 539,39 395,86 214,191 334,181 506,71 236,189 260,209 515,97 423,141 419,188 562,60 343,127 536,50 474,50 278,219 538,4 465,134 516,5 511,82 587,87 461,145 579,30 501,74 253,208 515,47 409,113 455,129 592,27 568,121 576,88 228,163 87,260 316,207 459,79 290,153 300,170 530,4 411,146 532,4 483,75 501,112 301,104 529,96 539,88 549,77 265,171 331,138 395,173 500,4 515,83 586,120 543,20 247,214 447,19 590,48 537,4 578,79 385,137 572,157 562,102 569,4 585,4 436,139 489,92 142,264 408,124 455,81 295,202 587,34 560,33 152,262 553,48 441,45 454,98 470,79 412,96 235,228 584,17 493,55 247,219 504,129 581,35 572,81 540,4 145,262 251,210 532,86 363,166 475,113 531,81 301,193 470,106 379,172 266,125 444,148 531,61 419,83 547,39 496,4 450,134 395,96 270,189 452,102 557,84 64,315 514,103 246,197 544,79 187,184 496,131 308,149 240,214 295,166 285,191 414,114 569,4 574,77 565,4 314,156 450,90 528,9 514,83 271,184 543,122 348,153 99,244 515,20 549,75 535,91 485,92 486,128 553,111 543,22 219,200 546,70 489,91 486,101 566,108 557,54 107,231 476,43 441,150 326,155 589,8 426,117 510,44 594,4 467,4 309,147 566,60 410,160 348,148 520,99 362,167 277,167 498,121 571,4 387,100 437,128 165,200 540,4 390,204 411,56 288,148 532,4 550,43 89,258 489,68 425,121 381,129 403,148 455,130 575,31 555,87 535,33 550,12 496,161 477,21 579,73 407,97 515,67 472,129 519,9 547,38 467,130 471,115 552,111 466,75 104,233 507,125 317,179 436,4 253,200 391,71 474,70 214,201 513,109 554,78 537,4 160,257 558,101 283,137 486,78 337,184 449,28 538,131 434,70 344,134 234,230 536,74 255,142 353,177 513,128 217,171 339,187 424,141 466,192 530,79 249,182 219,201 456,52 487,127 458,47 238,193 122,222 560,87 554,28 222,229 289,164 592,4 443,173 383,96 532,62 569,52 434,166 519,48 586,4 421,69 412,31 481,138 382,153 505,67 407,152 238,161 537,16 484,97 349,178 288,148 455,102 568,40 364,117 510,106 286,193 353,136 321,146 483,72 550,4 455,98 560,72 292,138 574,4 541,4 320,139 435,133 579,39 280,214 172,249 530,99 298,199 509,111 491,86 575,85 450,61 440,83 497,48 509,81 521,85 581,130 438,132 417,19 457,87 587,18 409,101 258,209 100,290 589,38 505,58 571,74 420,159 422,112 223,210 278,190 292,211 328,173 416,87 562,4 342,131 562,4 89,255 585,45 233,186 216,193 465,95 515,113 421,129 553,37 353,74 269,218 353,187 556,4 244,177 364,137 233,149 260,216 580,103 537,4 241,217 221,180 380,186 452,145 490,36 512,4 471,4 515,103 280,154 410,139 526,8 510,124 369,106 552,17 552,4 513,106 424,111 570,94 347,176 253,163 425,142 294,213 409,124 550,4 303,186 541,38 572,4 468,78 229,154 387,145 513,29 517,35 478,102 499,23 260,173 250,155 586,4 262,165 238,151 492,123 251,198 374,125 535,111 74,308 332,137 576,4 299,186 532,112 521,58 549,92 501,73 422,60 356,116 356,164 525,31 487,125 441,167 576,61 392,122 308,197 379,92 410,77 475,41 489,117 563,50 377,145 574,114 586,52 576,4 255,167 163,255 505,130 507,160 348,174 216,193 152,202 553,4 440,98 532,12 404,101 439,189 571,37 477,152 495,66 258,170 444,143 581,98 555,76 220,190 319,167 264,153 430,158 555,5 477,57 486,115 508,39 254,177 558,36 586,32 384,164 268,189 181,182 260,147 394,151 553,68 223,224 405,104 88,254 579,4 241,220 590,4 251,202 421,140 355,120 383,153 505,4 137,266 582,31 425,93 589,23 383,87 563,80 478,96 364,139 479,70 575,64 523,68 346,148 417,69 567,51 489,7 76,306 290,149 487,134 310,151 507,4 558,10 505,35 531,124 529,15 499,118 176,252 483,12 580,4 578,59 483,107 373,114 494,79 510,79 576,15 369,180 240,176 463,43 247,234 541,67 553,7 396,58 379,159 563,4 311,97 490,98 511,31 465,146 442,63 386,66 311,185 584,58 496,22 372,174 523,78 400,135 571,25 549,58 414,143 593,25 503,4 233,232 530,76 536,159 496,75 560,100 180,247 459,90 452,60 475,113 471,112 462,4 377,172 528,35 510,4 228,180 559,48 237,189 566,20 385,84 568,43 476,54 101,244 548,4 242,175 308,203 488,101 428,195 572,62 285,176 274,155 396,119 354,165 214,239 280,165 490,50 258,200 457,81 564,4 501,86 457,104 230,203 249,226 78,274 422,107 282,178 460,48 500,80 371,160 467,137 492,67 507,71 238,147 467,15 160,255 448,144 258,168 397,132 582,100 543,103 166,254 557,74 470,129 592,4 433,147 288,211 440,18 407,156 231,174 186,182 422,153 521,22 365,90 480,4 497,72 514,36 407,157 287,192 310,136 410,137 495,137 422,86 581,61 119,283 575,93 228,193 588,57 537,18 491,36 320,182 437,146 569,4 572,4 219,222 472,80 283,201 564,90 165,202 298,151 428,145 510,64 402,107 440,118 342,170 281,128 171,201 556,90 251,180 413,109 251,147 565,49 474,101 206,236 547,55 249,170 221,198 448,97 583,64 459,102 568,48 567,4 580,6 526,74 227,185 508,113 537,52 215,217 317,128 422,123 393,150 223,215 237,169 481,81 553,22 238,200 438,42 311,148 583,4 529,122 365,132 594,76 561,27 533,66 417,95 583,139 435,63 520,40 567,87 589,36 418,94 480,134 561,110 235,194 496,119 563,4 336,183 485,91 492,43 343,155 486,76 541,112 506,36 572,24 425,127 233,151 587,4 579,54 541,89 466,85 203,239 255,175 509,120 339,122 435,131 508,157 406,151 434,76 541,4 399,108 311,172 461,53 555,108 519,4 306,208 497,112 272,152 535,4 563,4 522,69 491,15 579,4 236,192 574,40 522,60 389,147 497,17 248,208 267,170 556,13 289,208 223,201 552,79 288,167 467,147 257,170 557,78 384,113 246,152 400,119 504,35 63,299 230,189 447,125 487,70 585,41 400,112 276,218 531,106 437,127 552,48 399,153 349,209 383,146 331,141 548,42 592,87 489,38 353,141 399,188 555,68 134,272 242,165 209,165 449,102 465,4 379,178 437,162 155,207 257,168 234,223 485,46 222,168 522,103 527,41 531,124 357,114 461,45 358,166 556,17 218,185 563,102 542,4 511,25 537,4 470,58 587,115 432,82 267,201 298,200 569,7 76,276 491,77 463,103 517,14 499,121 327,167 418,158 452,44 502,4 242,196 567,4 164,199 513,106 516,161 316,132 448,139 537,49 382,101 430,111 537,90 509,15 414,33 568,4 542,57 577,4 575,48 256,153 483,79 430,111 495,25 150,211 222,231 556,81 495,78 580,4 507,95 387,90 376,150 567,94 484,111 258,196 363,122 445,124 512,78 494,69 234,167 492,95 469,145 412,87 76,314 548,25 491,138 539,58 264,156 525,57 405,161 589,92 266,208 469,52 565,15 268,160 473,104 284,187 579,56 552,16 238,153 314,127 319,185 478,96 465,77 410,46 435,104 446,78 238,234 574,8 582,4 526,88 562,43 103,283 393,119 417,149 452,92 250,201 511,97 427,82 564,98 415,89 387,186 470,119 498,130 412,101 523,57 134,220 248,227 497,90 185,181 539,4 351,135 463,4 262,214 543,7 550,61 510,56 399,151 579,47 564,33 413,154 587,68 386,117 463,140 496,117 381,141 511,127 458,119 478,59 582,103 548,55 457,115 269,205 464,87 559,90 524,66 550,4 247,201 559,31 487,47 514,119 82,300 493,24 166,256 260,151 499,30 244,220 214,224 585,65 277,156 491,95 256,155 364,132 277,192 421,120 485,81 172,191 302,174 132,223 449,101 449,62 256,220 364,156 232,176 382,29 127,271 537,78 446,112 240,166 462,64 236,220 246,219 335,110 306,151 352,119 564,4 505,36 422,92 512,115 495,45 270,197 460,26 517,127 486,18 362,190 517,104 550,38 592,27 296,167 581,4 504,130 515,84 528,8 442,147 460,108 588,99 271,211 229,161 579,4 511,4 262,209 461,134 501,72 252,163 253,148 360,135 276,216 223,166 559,4 96,242 490,4 498,25 461,97 540,4 570,123 301,206 588,4 413,118 578,73 511,75 407,96 324,198 523,4 542,48 571,87 338,156 559,67 123,229 570,117 450,81 496,36 569,44 477,94 405,161 484,42 422,53 411,101 288,135 411,92 420,167 544,97 302,197 437,107 151,210 487,99 472,108 551,4 439,101 583,67 481,13 441,39 519,70 514,4 580,61 511,13 573,4 389,143 466,117 491,53 593,4 532,107 490,85 459,90 428,70 460,48 262,133 96,246 476,11 396,174 537,41 295,166 461,85 417,104 514,4 471,60 450,62 368,164 574,4 253,213 481,163 414,110 375,187 525,4 524,11 303,174 500,117 398,111 572,25 523,80 575,4 234,184 478,91 425,132 292,203 225,194 587,135 585,9 564,8 173,197 510,50 355,153 418,107 542,39 424,97 242,192 583,4 468,114 545,45 349,172 437,131 527,10 564,67 434,148 270,211 556,45 549,4 338,241 421,61 476,4 276,166 451,106 431,54 369,168 438,150 555,4 553,94 242,158 272,215 154,208 594,27 591,27 580,85 489,95 593,4 258,147 283,152 539,37 335,108 521,45 518,50 326,180 592,4 359,157 472,40 484,150 519,34 483,108 515,59 558,114 561,113 77,269 120,228 570,4 562,106 556,4 578,136 353,166 473,92 534,30 301,188 581,82 554,133 108,283 353,160 492,82 484,139 501,65 529,97 571,13 224,207 518,83 526,28 176,250 550,53 329,145 404,82 490,128 513,99 468,113 311,162 232,153 582,92 557,4 392,108 244,182 591,21 534,80 502,19 236,146 399,102 556,110 439,98 471,4 224,191 420,122 559,53 380,154 233,153 482,46 385,144 62,308 273,142 325,157 536,91 556,4 575,40 240,168 494,4 229,190 557,47 519,121 470,29 349,134 293,140 272,174 220,156 444,134 497,64 432,126 488,47 465,153 496,7 471,116 460,74 161,204 492,33 389,159 571,4 255,198 305,138 548,33 557,5 301,89 242,170 533,59 543,4 311,149 475,66 252,204 552,4 482,113 583,57 441,160 354,172 446,144 573,22 420,5 341,151 361,142 277,202 480,37 410,172 431,148 214,161 280,216 476,126 511,127 491,70 370,164 398,150 528,4 344,133 304,145 577,14 289,190 530,4 578,25 461,74 383,140 526,51 531,36 84,294 253,228 342,147 517,17 425,158 502,150 394,88 546,127 246,148 536,14 592,34 237,86 452,123 441,89 358,165 278,194 571,105 381,142 499,24 547,4 262,137 528,4 579,4 469,123 124,230 396,91 556,46 244,230 581,17 109,231 520,23 400,170 416,110 480,132 570,78 432,120 96,249 231,188 326,125 421,114 557,102 307,140 438,97 439,142 380,153 525,4 561,18 538,166 208,168 556,84 254,230 405,139 394,148 444,50 494,104 465,110 549,4 375,193 505,101 440,76 501,160 459,46 594,64 106,281 526,43 196,242 286,172 509,82 521,69 450,67 250,218 404,146 500,149 233,183 290,195 287,149 448,40 582,4 567,94 293,208 555,80 499,92 339,130 455,103 559,4 486,41 493,9 475,122 539,115 531,91 290,136 466,96 579,10 280,175 438,150 543,133 515,105 588,72 78,304 521,19 506,138 509,104 434,146 259,157 503,11 310,152 392,61 579,6 511,20 418,158 475,4 561,93 594,4 321,119 530,118 463,152 560,85 381,94 322,192 186,188 572,13 261,163 484,57 241,165 334,109 557,100 207,234 593,4 316,207 188,176 215,171 544,73 333,125 235,188 491,4 575,19 450,96 228,168 570,32 423,109 408,100 535,15 326,167 551,125 554,4 231,159 525,48 264,196 509,49 315,123 520,36 569,19 256,208 575,56 437,111 430,109 515,4 593,161 573,62 563,4 224,160 474,56 418,150 536,92 495,4 410,63 209,171 361,116 426,134 593,33 405,111 568,146 458,136 251,212 246,160 538,64 364,140 551,184 286,174 510,60 500,32 296,203 571,43 526,24 566,116 260,128 465,15 431,68 544,59 465,147 430,156 243,209 467,4 491,4 454,4 268,175 458,140 352,175 508,98 270,136 515,4 270,205 459,122 372,88 94,248 563,72 510,116 390,180 479,46 576,18 399,159 458,55 286,203 487,98 531,108 498,39 299,215 338,186 403,169 334,130 544,56 217,208 503,86 590,58 580,77 590,113 246,185 517,73 476,47 137,272 489,51 368,127 530,102 450,95 162,257 549,75 298,236 551,9 468,72 391,191 590,4 580,85 228,201 490,85 375,166 340,126 440,164 490,70 444,168 531,79 346,109 369,129 547,120 490,144 389,121 585,18 468,74 407,146 278,132 459,47 439,93 318,133 369,99 456,161 544,85 474,126 195,181 445,90 572,58 563,34 300,208 214,181 298,171 490,34 508,56 365,135 590,69 527,85 559,4 289,203 547,77 423,90 303,176 301,135 250,166 392,119 430,107 524,114 384,159 352,121 322,197 476,90 568,30 219,178 590,74 216,235 361,161 554,4 584,70 547,128 563,45 522,62 511,11 304,132 544,112 218,135 551,54 551,14 585,4 530,41 286,145 479,122 530,20 317,83 555,109 546,4 409,51 257,212 588,63 285,183 332,198 172,194 494,38 590,6 69,286 579,43 501,10 344,154 232,172 579,36 274,205 459,65 362,148 531,124 337,71 157,262 417,60 557,19 386,124 366,172 507,142 386,142 291,185 443,168 319,196 237,213 483,123 554,111 345,147 486,74 355,59 288,193 321,194 562,31 579,74 302,191 572,4 257,205 491,53 228,165 517,19 515,108 468,4 418,92 452,92 274,198 349,139 188,180 373,193 92,253 411,174 577,4 469,29 532,70 301,183 490,74 437,115 504,35 530,49 222,172 290,182 379,132 539,20 518,92 386,143 435,83 569,31 510,55 498,47 386,139 544,62 470,103 445,4 282,140 518,4 475,86 544,51 471,56 453,68 413,110 476,13 217,209 334,152 529,4 484,92 375,142 504,41 538,77 227,153 324,177 487,117 566,4 543,4 258,191 344,176 564,76 442,135 420,123 572,51 489,55 559,38 265,234 455,98 491,74 360,121 340,125 546,4 536,13 249,196 477,25 70,311 284,216 558,38 278,182 406,83 455,102 493,62 530,8 330,163 431,111 451,124 462,97 591,4 436,109 520,4 403,91 325,124 173,191 100,284 589,109 559,20 457,91 504,99 507,113 460,36 434,92 558,109 268,206 538,33 581,22 563,4 501,126 519,78 501,4 402,73 541,102 554,86 337,156 412,196 302,115 276,217 515,35 503,99 494,157 585,20 406,117 549,4 562,4 229,221 545,4 242,192 378,136 549,37 565,75 217,202 391,79 589,4 505,76 543,4 479,99 359,22 417,108 294,157 271,216 544,124 207,169 506,109 227,211 421,83 500,114 232,161 233,214 485,59 233,194 550,11 115,276 430,157 324,190 418,43 570,4 66,311 359,153 576,27 451,71 316,168 391,201 377,85 507,92 306,208 270,150 497,31 489,30 471,79 354,112 585,78 511,52 357,111 371,11 531,109 455,97 527,80 412,138 495,143 246,158 353,162 179,185 323,178 462,144 586,4 227,232 564,54 503,121 544,4 559,39 567,49 553,25 392,115 484,144 513,137 406,156 463,104 444,119 429,46 411,102 526,60 512,4 539,86 279,178 382,151 449,86 245,210 532,46 454,52 551,29 200,172 515,106 465,38 533,36 502,75 230,133 562,4 516,88 583,4 324,112 524,88 478,18 473,85 547,51 421,83 229,173 546,8 431,106 274,139 271,202 584,91 486,138 503,33 380,166 130,223 336,135 509,51 528,26 558,60 481,124 470,50 591,60 496,58 576,41 542,118 522,48 428,110 80,299 134,270 514,83 461,69 396,155 380,182 312,150 551,4 353,126 407,130 300,170 528,13 330,136 573,4 243,188 542,60 580,4 576,4 532,74 594,4 111,233 478,129 496,75 445,121 552,46 345,147 499,118 545,59 528,10 140,214 289,219 251,192 380,193 441,14 461,43 426,94 167,199 588,4 572,4 146,264 353,180 517,102 579,57 562,36 517,63 116,277 545,96 281,152 328,168 567,4 519,132 563,4 239,221 587,58 493,4 227,173 517,85 447,111 546,111 559,66 575,47 449,124 581,20 481,47 368,150 267,150 465,8 273,183 488,131 265,201 257,204 297,163 586,4 524,4 418,85 547,4 133,270 318,154 296,140 403,108 435,4 535,22 542,79 592,4 592,24 580,14 514,114 189,246 389,112 576,4 549,81 569,163 438,136 540,41 188,249 577,16 547,17 376,118 547,98 340,127 483,4 413,137 554,4 563,65 499,110 464,81 587,12 549,4 336,116 414,137 274,180 372,154 288,141 331,167 498,105 508,78 286,139 457,60 588,39 393,146 348,154 477,139 584,74 541,79 458,113 359,176 558,4 534,4 566,75 250,182 504,70 171,248 351,121 343,85 484,140 583,15 275,180 485,4 402,159 564,97 227,244 351,159 565,101 220,195 476,84 585,4 554,94 239,208 470,156 405,101 530,42 578,29 334,158 522,33 402,114 541,87 318,140 448,161 517,37 519,53 483,46 443,113 478,139 574,84 428,207 317,195 591,4 460,44 583,42 466,57 246,199 508,105 554,27 452,140 134,221 579,4 424,111 570,82 272,201 415,36 547,103 181,179 473,102 322,131 160,204 245,185 532,6 587,37 570,4 360,188 462,85 481,168 499,133 357,143 263,219 483,108 296,214 475,159 297,140 233,211 579,94 285,129 254,196 545,36 584,115 348,159 409,89 506,43 526,66 533,70 477,99 459,88 232,234 278,185 542,24 425,108 424,103 270,187 416,89 594,4 436,74 536,100 342,123 575,4 472,120 555,4 563,25 538,165 559,81 547,57 259,164 554,27 465,53 461,67 518,4 534,4 501,4 330,145 517,93 524,38 561,4 228,196 527,140 307,147 298,109 578,41 275,221 432,61 484,121 440,4 496,71 405,107 472,35 581,33 502,18 267,227 588,95 217,172 282,144 251,211 337,127 433,80 549,116 275,182 571,110 427,112 500,72 534,116 353,192 399,112 308,182 479,102 360,149 504,34 568,4 233,188 450,145 467,4 587,4 435,73 476,4 424,88 542,100 506,70 320,136 316,201 509,63 540,77 395,79 494,131 276,168 317,117 375,133 549,32 232,224 497,136 214,181 312,176 280,212 107,235 386,76 445,102 458,97 538,49 309,177 335,180 247,155 444,118 479,4 240,217 525,28 375,166 253,203 566,4 502,115 476,10 339,169 314,166 303,200 188,180 392,153 590,42 501,93 189,181 590,56 314,193 338,113 482,36 341,164 245,190 570,97 264,184 240,170 146,214 566,29 525,4 571,97 279,134 583,91 324,138 503,102 512,151 236,180 278,159 484,141 311,190 245,213 541,26 344,145 191,244 202,241 536,4 556,13 465,155 565,46 445,154 521,20 233,213 567,34 279,118 545,93 228,170 581,74 288,127 354,189 263,160 555,72 588,4 190,177 526,95 485,59 314,187 430,59 334,137 281,190 278,152 579,28 500,88 564,55 547,61 569,59 465,57 539,81 320,172 435,140 484,67 434,99 65,292 298,215 459,62 325,147 336,195 588,16 425,124 510,105 331,126 255,209 487,136 474,131 186,188 452,126 514,90 442,37 572,4 497,133 446,73 441,65 448,7 322,172 207,253 535,13 472,90 417,85 456,65 472,115 330,113 497,29 462,72 531,6 523,82 555,5 481,135 270,171 444,146 393,163 594,48 543,4 584,114 443,134 521,98 286,143 391,126 381,175 405,167 526,4 577,60 190,184 400,121 510,120 102,283 362,84 120,221 578,4 348,181 381,156 449,149 299,141 439,111 324,167 222,180 526,4 509,160 430,35 250,191 224,158 510,90 495,87 457,187 316,159 484,22 500,156 510,72 524,94 281,203 514,84 477,37 236,185 436,100 320,190 490,21 569,55 479,4 531,34 420,134 569,4 524,17 569,27 510,15 450,60 242,219 323,128 492,120 142,214 166,253 431,68 476,209 471,99 524,21 160,258 267,148 397,143 547,51 488,120 560,19 421,146 311,211 472,115 303,155 322,129 361,172 370,156 539,74 435,117 516,28 429,168 497,4 328,143 453,102 375,173 418,94 469,72 436,137 593,5 464,78 489,148 484,59 487,28 591,19 368,137 417,61 502,131 101,244 382,127 353,113 274,204 576,41 260,169 524,89 242,192 414,83 402,109 556,113 496,64 261,201 425,160 434,77 579,104 291,121 437,47 565,131 528,96 508,21 305,207 514,21 340,191 201,168 393,102 522,4 525,20 589,4 506,173 543,38 559,75 539,39 478,143 467,25 550,7 453,155 286,131 568,47 464,88 491,66 558,11 579,13 447,104 162,206 518,75 469,127 549,94 374,55 571,33 479,50 567,6 174,247 540,84 439,111 577,4 293,140 163,203 579,64 334,189 553,116 436,153 239,157 257,184 443,101 346,175 590,104 482,197 540,4 462,85 401,85 489,93 266,214 586,42 571,4 463,70 573,41 123,226 484,114 230,243 447,86 280,132 345,173 594,50 586,26 399,184 388,151 302,170 224,223 356,129 543,41 469,7 463,123 561,4 570,36 508,4 518,46 531,34 334,199 260,163 581,37 509,56 510,109 143,212 497,52 589,62 387,101 442,138 531,4 316,218 302,136 506,58 259,239 64,309 497,159 535,4 431,70 585,16 233,159 401,195 546,86 282,203 402,140 593,4 205,164 351,125 224,210 269,150 449,60 483,25 565,114 548,26 403,105 569,4 553,101 187,181 96,242 580,8 536,4 592,89 405,27 441,64 171,254 583,23 270,231 453,118 462,123 448,155 594,53 518,32 396,141 544,4 472,14 425,119 378,192 477,30 364,179 96,247 319,165 542,109 499,26 545,4 472,35 114,279 378,133 418,127 376,108 477,104 542,4 296,145 462,111 503,4 397,167 342,127 99,285 323,152 517,73 498,129 335,200 563,54 588,74 501,106 379,142 468,135 500,123 531,119 548,81 588,141 360,170 473,64 530,107 522,14 256,213 467,76 472,56 223,220 452,120 414,94 342,190 589,4 570,109 245,224 207,170 590,77 468,125 549,26 178,195 540,11 543,74 279,139 476,79 382,161 507,110 458,127 300,140 356,192 557,16 368,129 556,4 556,21 263,157 519,66 593,16 511,83 558,36 355,157 300,194 292,156 245,181 364,192 438,152 593,26 460,131 225,232 497,106 514,95 370,149 142,263 593,4 337,101 517,43 549,13 406,104 330,112 279,144 424,110 362,151 505,99 533,47 328,181 584,5 274,217 546,16 440,111 574,17 296,159 416,143 500,59 194,176 451,4 523,41 507,30 530,39 197,240 422,136 539,51 499,70 539,98 378,171 584,97 548,103 513,96 517,79 512,125 467,145 512,79 203,170 572,72 470,43 438,81 251,158 536,47 90,290 138,272 440,131 577,52 519,111 389,106 284,120 521,31 276,150 579,74 264,142 514,93 459,30 589,86 549,4 444,81 386,149 270,168 514,152 575,119 509,56 213,166 518,83 375,170 413,54 427,115 489,182 271,205 492,115 230,229 490,72 544,38 512,4 473,152 583,88 351,216 489,93 230,228 416,150 472,40 459,141 386,98 463,112 517,102 220,181 565,4 223,233 283,203 532,4 450,23 427,144 382,174 405,49 533,22 139,221 567,167 575,58 255,200 370,176 528,4 574,4 513,115 429,92 550,90 132,220 390,119 315,146 500,41 566,23 220,193 585,5 536,46 571,4 250,150 420,102 90,247 418,91 463,42 277,141 470,61 262,217 472,65 442,70 547,4 552,36 486,121 443,154 399,161 570,9 568,87 221,181 498,179 532,49 293,153 465,5 584,4 502,37 498,49 444,77 539,11 282,188 511,121 190,184 277,213 479,121 307,129 372,99 366,79 522,107 594,22 543,97 473,128 430,128 424,125 424,58 304,153 394,147 293,182 246,163 366,164 452,81 437,154 371,137 375,163 338,192 219,204 332,184 396,165 228,162 537,85 480,136 582,79 468,4 467,49 440,123 481,66 575,21 473,61 471,138 318,205 529,45 551,18 524,118 579,4 568,96 420,137 563,51 510,106 218,233 434,96 471,96 553,108 444,95 572,44 589,4 532,4 563,49 438,160 562,4 322,138 561,62 192,183 587,4 580,4 462,93 333,196 473,102 264,179 493,99 297,200 359,157 582,6 254,167 491,132 554,79 270,180 552,4 558,8 465,127 379,93 591,4 388,144 464,140 386,116 442,4 548,79 469,21 462,71 257,178 561,62 279,163 476,128 473,145 397,145 400,87 498,100 527,62 285,186 584,15 436,169 176,193 257,165 480,123 485,21 65,298 174,249 390,90 523,128 93,253 226,167 192,239 440,137 81,299 457,113 358,111 571,66 254,181 507,92 520,177 373,98 154,258 459,56 309,162 228,218 587,63 449,113 248,226 252,186 502,64 296,138 161,200 294,138 395,93 555,118 529,66 459,85 573,4 281,157 474,47 368,91 230,167 418,78 536,117 590,110 445,77 583,89 330,171 521,28 527,105 269,176 523,78 395,124 585,4 364,112 542,38 250,211 347,131 253,177 303,206 505,109 372,188 357,106 496,40 501,79 523,13 428,160 410,130 270,130 574,108 578,55 590,4 492,45 445,90 220,234 429,74 276,154 119,277 327,174 395,163 236,158 551,60 471,57 288,242 193,178 523,117 217,220 417,169 323,211 549,5 311,164 442,81 559,27 253,196 397,105 559,18 226,159 448,71 584,39 544,4 308,137 594,49 553,57 557,63 455,83 563,39 486,54 536,103 187,183 394,164 398,143 559,49 511,14 117,275 241,191 144,265 544,61 321,179 561,131 179,194 392,140 536,49 520,129 324,193 346,67 312,150 522,101 540,72 578,106 93,290 509,72 497,4 529,15 526,24 464,95 263,155 524,102 534,54 360,38 580,102 522,94 364,128 558,20 530,62 576,4 511,21 259,207 503,128 336,127 459,81 459,88 400,141 371,182 243,218 89,294 408,146 318,171 593,4 456,134 337,152 330,164 445,102 225,183 259,191 592,18 64,310 533,101 500,99 370,162 427,4 560,71 545,51 569,4 425,21 315,204 547,11 440,62 250,169 408,138 353,192 580,70 272,184 552,42 526,98 376,128 413,149 461,142 544,7 513,4 551,4 271,202 514,73 248,188 519,84 574,4 458,121 529,21 416,149 584,32 220,167 484,45 369,132 585,100 565,55 521,52 535,118 149,262 145,268 584,29 518,31 516,53 68,309 444,135 165,180 262,183 442,110 476,83 268,208 564,67 273,112 527,74 511,83 254,154 414,135 271,216 328,193 484,97 544,11 590,10 301,170 496,122 529,61 426,34 374,158 460,26 439,66 536,33 428,149 396,31 214,205 253,179 495,103 358,121 518,86 430,112 448,111 252,171 442,108 248,142 466,124 571,19 535,4 266,221 583,73 76,277 288,157 549,108 482,111 392,130 470,63 331,149 495,144 572,88 353,183 225,201 381,117 271,134 377,189 474,131 382,59 500,4 461,112 386,137 563,4 360,150 575,52 237,138 551,69 546,18 422,80 481,90 541,4 248,205 489,122 576,78 450,70 220,172 362,140 227,178 465,93 518,77 594,81 141,217 467,4 581,97 373,169 577,25 528,96 425,60 356,110 520,4 549,30 352,131 535,85 442,74 103,283 593,10 541,4 496,4 461,103 327,147 198,250 237,223 233,206 538,48 482,133 486,37 422,34 518,49 279,180 299,128 279,171 527,123 553,65 577,59 528,58 517,62 441,136 328,190 552,4 487,56 562,4 536,69 452,101 433,157 555,24 553,128 499,140 126,271 471,133 183,178 570,81 580,64 553,4 523,27 260,148 585,4 222,167 269,180 542,4 520,187 280,233 219,221 366,145 259,168 472,56 533,109 469,121 521,4 427,122 555,135 262,192 485,93 497,138 314,144 516,8 493,57 542,38 339,184 469,76 370,148 256,148 552,10 580,48 435,119 556,4 557,22 217,204 220,207 447,91 487,46 369,173 437,103 532,45 215,243 271,150 501,85 562,116 549,89 504,72 436,63 328,182 481,89 563,78 274,199 245,202 445,111 565,4 339,184 549,43 383,119 561,46 405,96 296,190 468,85 218,220 574,4 582,95 367,125 83,268 122,216 577,56 435,154 434,145 584,29"/>
<path d="M63,3 V385.7 H596" stroke="#737373" stroke-width="1.7" fill="none"/>
<path d="M137.5,385.7 v-5 M220.5,385.7 v-5 M304.5,385.7 v-5 M387.5,385.7 v-5 M470.5,385.7 v-5 M554.5,385.7 v-5 M63,385.5 h5.5 M63,316.5 h5.5 M63,246.5 h5.5 M63,176.5 h5.5 M63,107.5 h5.5 M63,37.5 h5.5" stroke="#606060" stroke-width="1" fill="none"/>
<path d="M62.5,301.6 L65.5,297.8 L68.5,294 L71.5,290.3 L74.5,286.7 L77.5,283.2 L80.5,279.9 L83.5,276.8 L86.5,273.8 L89.5,271.2 L92.5,268.9 L95.5,266.7 L98.5,264.6 L101.5,262.6 L104.5,260.7 L107.5,258.8 L110.5,256.9 L113.5,255 L116.5,253.2 L119.5,251.5 L122.5,249.9 L125.5,248.4 L128.5,246.9 L131.5,245.4 L134.5,243.8 L137.5,242.2 L140.5,240.5 L143.5,238.9 L146.5,237.2 L149.5,235.6 L150,235.3 L160,230.1 L170,225.1 L180,220.4 L190,216.1 L200,212.2 L210,208.4 L220,204.3 L230,200.2 L240,196 L250,191.8 L260,187.7 L270,183.7 L280,179.6 L290,175.5 L300,171.3 L310,167.1 L320,162.9 L330,158.8 L340,154.8 L350,150.8 L360,146.8 L370,142.6 L380,138.1 L390,133.3 L400,128.5 L410,123.8 L420,119.2 L430,114.6 L440,110.1 L450,105.4 L460,100.6 L470,95.7 L480,90.8 L490,85.9 L500,81.1 L510,76.1 L520,71 L530,65.4 L540,60 L550,55.5 L560,51.1 L570,46.8 L578,43.4 L583,41 L588.3,39.2 L591,38.9 L595.8,38.7" stroke="#000" stroke-width="3" fill="none" stroke-linejoin="round"/>
<path d="M76.5,190.8 H93.6 M85,176.8 V204.9 M76.5,189.5 v2.6 M93.6,189.5 v2.6 M83.7,176.8 h2.6 M83.7,204.9 h2.6 M96.1,190.8 H130.4 M113.5,176.8 V204.9 M96.1,189.5 v2.6 M130.4,189.5 v2.6 M112.2,176.8 h2.6 M112.2,204.9 h2.6 M193.8,232.6 H244.6 M219.2,218.6 V247 M193.8,231.3 v2.6 M244.6,231.3 v2.6 M217.9,218.6 h2.6 M217.9,247 h2.6 M95.4,302.4 H112.9 M104.3,288.4 V316.6 M95.4,301.1 v2.6 M112.9,301.1 v2.6 M103,288.4 h2.6 M103,316.6 h2.6 M118.5,302.4 H134.8 M126.9,288.4 V316.6 M118.5,301.1 v2.6 M134.8,301.1 v2.6 M125.6,288.4 h2.6 M125.6,316.6 h2.6" stroke="#1a1a1a" stroke-width="1" fill="none"/>
<path d="M85,184.3 l5.3,6.5 -5.3,6.5 -5.3,-6.5z M113.5,184.3 l5.3,6.5 -5.3,6.5 -5.3,-6.5z M219.2,226.1 l5.3,6.5 -5.3,6.5 -5.3,-6.5z M104.3,295.9 l5.3,6.5 -5.3,6.5 -5.3,-6.5z M126.9,295.9 l5.3,6.5 -5.3,6.5 -5.3,-6.5z" fill="#000"/>
<text x="72.2" y="166.5" font-size="14.3" textLength="111.2" lengthAdjust="spacingAndGlyphs" font-weight="bold" fill="#0a0a0a" stroke="#0a0a0a" stroke-width="0.3">Viet Nam (0.192)</text>
<text x="121.8" y="186.2" font-size="14.3" textLength="107.8" lengthAdjust="spacingAndGlyphs" font-weight="bold" fill="#0a0a0a" stroke="#0a0a0a" stroke-width="0.3">Thailand (0.031)</text>
<text x="222.9" y="254.9" font-size="14.3" textLength="74.8" lengthAdjust="spacingAndGlyphs" font-weight="bold" fill="#0a0a0a" stroke="#0a0a0a" stroke-width="0.3">Lao (1.588)</text>
<text x="96.4" y="285.4" font-size="14.3" textLength="119" lengthAdjust="spacingAndGlyphs" font-weight="bold" fill="#0a0a0a" stroke="#0a0a0a" stroke-width="0.3">Cambodia (0.996)</text>
<text x="134.5" y="313.4" font-size="14.3" textLength="111.8" lengthAdjust="spacingAndGlyphs" font-weight="bold" fill="#0a0a0a" stroke="#0a0a0a" stroke-width="0.3">Myanmar (0.681)</text>
<rect x="159.6" y="322.6" width="422.2" height="54.7" fill="#fff" stroke="#3a3a3a" stroke-width="1"/>
<path d="M163.8,333 H206.7" stroke="#000" stroke-width="3"/>
<path d="M185,344.8 l4.2,5.5 -4.2,5.5 -4.2,-5.5z" fill="#a0a0a0"/>
<path d="M185,361.9 l4.2,5.5 -4.2,5.5 -4.2,-5.5z" fill="#000"/>
<text x="210.8" y="338.3" font-size="13" textLength="152.6" lengthAdjust="spacingAndGlyphs" fill="#111" stroke="#111" stroke-width="0.2">Point estimate parameters</text>
<text x="210.8" y="355.2" font-size="13" textLength="135.1" lengthAdjust="spacingAndGlyphs" fill="#111" stroke="#111" stroke-width="0.2">Uncertainty simulations</text>
<text x="210.8" y="372.1" font-size="13" textLength="366.6" lengthAdjust="spacingAndGlyphs" fill="#111" stroke="#111" stroke-width="0.2">Calibration data (average number of ACTs per person per year)</text>
<text x="137.4" y="408.5" font-size="21.5" text-anchor="middle" fill="#1a1a1a" stroke="#1a1a1a" stroke-width="0.35">10</text>
<text x="220.8" y="408.5" font-size="21.5" text-anchor="middle" fill="#1a1a1a" stroke="#1a1a1a" stroke-width="0.35">20</text>
<text x="304.2" y="408.5" font-size="21.5" text-anchor="middle" fill="#1a1a1a" stroke="#1a1a1a" stroke-width="0.35">30</text>
<text x="387.7" y="408.5" font-size="21.5" text-anchor="middle" fill="#1a1a1a" stroke="#1a1a1a" stroke-width="0.35">40</text>
<text x="471.1" y="408.5" font-size="21.5" text-anchor="middle" fill="#1a1a1a" stroke="#1a1a1a" stroke-width="0.35">50</text>
<text x="554.5" y="408.5" font-size="21.5" text-anchor="middle" fill="#1a1a1a" stroke="#1a1a1a" stroke-width="0.35">60</text>
<text x="49.1" y="393.3" font-size="21.5" text-anchor="middle" fill="#1a1a1a" stroke="#1a1a1a" stroke-width="0.35">0</text>
<text x="49.1" y="323.6" font-size="21.5" text-anchor="middle" fill="#1a1a1a" stroke="#1a1a1a" stroke-width="0.35">5</text>
<text x="49.1" y="253.9" font-size="21.5" text-anchor="middle" fill="#1a1a1a" stroke="#1a1a1a" stroke-width="0.35">10</text>
<text x="49.1" y="184.3" font-size="21.5" text-anchor="middle" fill="#1a1a1a" stroke="#1a1a1a" stroke-width="0.35">15</text>
<text x="49.1" y="114.6" font-size="21.5" text-anchor="middle" fill="#1a1a1a" stroke="#1a1a1a" stroke-width="0.35">20</text>
<text x="49.1" y="44.9" font-size="21.5" text-anchor="middle" fill="#1a1a1a" stroke="#1a1a1a" stroke-width="0.35">25</text>
<text x="89.8" y="439.2" font-size="25" fill="#1a1a1a" stroke="#1a1a1a" stroke-width="0.35" font-style="italic" textLength="141.7" lengthAdjust="spacingAndGlyphs">P.falciparum</text>
<text x="239.0" y="439.2" font-size="25" fill="#1a1a1a" stroke="#1a1a1a" stroke-width="0.35" textLength="306.8" lengthAdjust="spacingAndGlyphs">prevalence among humans</text>
<text x="151.3" y="474" font-size="25" fill="#1a1a1a" stroke="#1a1a1a" stroke-width="0.35" textLength="328" lengthAdjust="spacingAndGlyphs">prior to mutations arising (%)</text>
<text transform="translate(19.6,330.6) rotate(-90)" font-size="25" fill="#1a1a1a" stroke="#1a1a1a" stroke-width="0.35" textLength="296" lengthAdjust="spacingAndGlyphs">Time to resistance (years)</text>
</svg></body></html>
